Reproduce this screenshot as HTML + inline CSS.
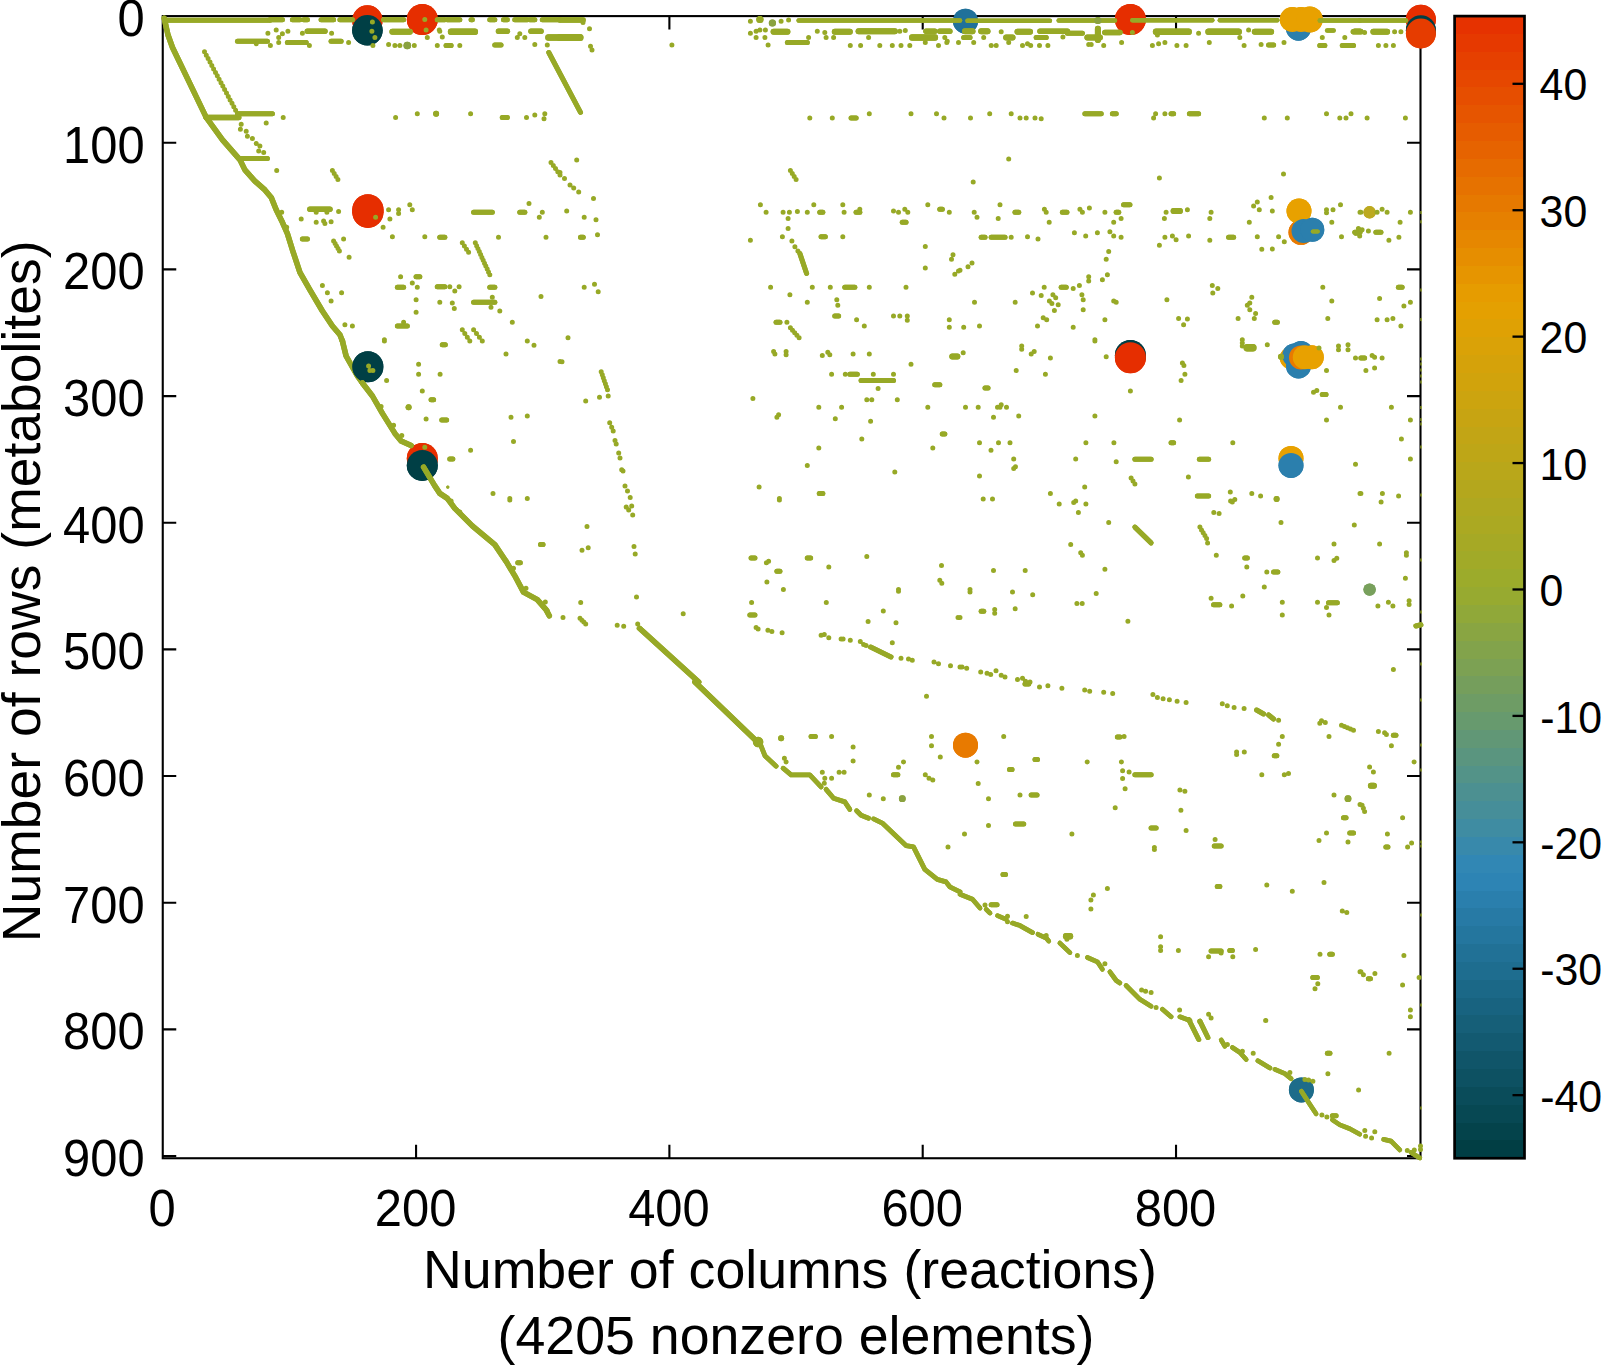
<!DOCTYPE html><html><head><meta charset="utf-8"><title>Sparsity pattern</title>
<style>html,body{margin:0;padding:0;background:#fff;overflow:hidden}svg{display:block}text{font-family:"Liberation Sans",sans-serif;fill:#000}</style></head><body>
<svg width="1601" height="1365" viewBox="0 0 1601 1365">
<rect width="1601" height="1365" fill="#fff"/>
<defs><linearGradient id="cb" x1="0" y1="0" x2="0" y2="1"><stop offset="0" stop-color="#e62e00"/><stop offset="0.25" stop-color="#e6a000"/><stop offset="0.5" stop-color="#9aab2c"/><stop offset="0.75" stop-color="#2e86b8"/><stop offset="1" stop-color="#003c40"/></linearGradient>
<clipPath id="clip"><rect x="158.75" y="0.00" width="1281.75" height="1164.15"/></clipPath></defs>
<g id="axes" stroke="#000" stroke-width="2.1" fill="none">
<rect x="162.75" y="16.10" width="1257.75" height="1142.15"/>
<path d="M162.75 142.76h13.5M1420.50 142.76h-13.5"/>
<path d="M162.75 269.42h13.5M1420.50 269.42h-13.5"/>
<path d="M162.75 396.08h13.5M1420.50 396.08h-13.5"/>
<path d="M162.75 522.74h13.5M1420.50 522.74h-13.5"/>
<path d="M162.75 649.40h13.5M1420.50 649.40h-13.5"/>
<path d="M162.75 776.06h13.5M1420.50 776.06h-13.5"/>
<path d="M162.75 902.72h13.5M1420.50 902.72h-13.5"/>
<path d="M162.75 1029.38h13.5M1420.50 1029.38h-13.5"/>
<path d="M162.75 1156.04h13.5M1420.50 1156.04h-13.5"/>
<path d="M416.07 1158.25v-13.5M416.07 16.10v13.5"/>
<path d="M669.39 1158.25v-13.5M669.39 16.10v13.5"/>
<path d="M922.71 1158.25v-13.5M922.71 16.10v13.5"/>
<path d="M1176.03 1158.25v-13.5M1176.03 16.10v13.5"/>
</g>
<g id="pts" clip-path="url(#clip)">
<g fill="none" stroke="#97a926" stroke-linecap="round" stroke-linejoin="round" stroke-width="5.0">
<path d="M342.4 341.0 346.1 356.0 357.4 376.0 362.4 383.0" stroke-width="5.5"/>
<path d="M342.4 341.0 346.1 356.0 357.4 376.0 362.4 383.0" stroke-width="5.5"/>
</g>
<circle cx="367.4" cy="20.5" r="15.2" fill="#e62e00"/>
<circle cx="367.4" cy="30.2" r="15.3" fill="#003f45"/>
<circle cx="422.3" cy="19.5" r="15.5" fill="#e62e00"/>
<circle cx="367.9" cy="209.8" r="15.6" fill="#e62e00"/>
<circle cx="367.9" cy="212.3" r="15.6" fill="#e62e00"/>
<circle cx="965.5" cy="21.2" r="12.5" fill="#20719a"/>
<circle cx="1130.4" cy="19.5" r="15.5" fill="#e62e00"/>
<circle cx="1298.5" cy="28.2" r="12.5" fill="#2b7fad"/>
<circle cx="1292.3" cy="19.5" r="12.5" fill="#e8a100"/>
<circle cx="1301.0" cy="19.5" r="12.5" fill="#e8a100"/>
<circle cx="1309.8" cy="19.5" r="13.0" fill="#e8a100"/>
<circle cx="1301.0" cy="232.3" r="12.5" fill="#e87a00"/>
<circle cx="1299.0" cy="211.1" r="12.5" fill="#e8a100"/>
<circle cx="1303.5" cy="231.1" r="12.0" fill="#2b7fad"/>
<circle cx="1312.3" cy="229.8" r="12.0" fill="#2b7fad"/>
<circle cx="1420.9" cy="19.7" r="15.0" fill="#e62e00"/>
<circle cx="1420.9" cy="30.2" r="15.0" fill="#003f45"/>
<circle cx="1420.9" cy="33.5" r="15.0" fill="#e63c00"/>
<circle cx="367.9" cy="366.7" r="15.5" fill="#003f45"/>
<circle cx="422.3" cy="458.4" r="15.5" fill="#e62e00"/>
<circle cx="422.3" cy="465.4" r="15.5" fill="#003f45"/>
<circle cx="1130.4" cy="355.5" r="15.5" fill="#003f45"/>
<circle cx="1130.4" cy="357.7" r="15.5" fill="#e62e00"/>
<circle cx="1290.8" cy="358.0" r="11.0" fill="#e8a100"/>
<circle cx="1294.3" cy="355.5" r="12.0" fill="#2b7fad"/>
<circle cx="1301.0" cy="353.0" r="12.0" fill="#2b7fad"/>
<circle cx="1298.5" cy="366.0" r="12.5" fill="#2b7fad"/>
<circle cx="1301.0" cy="357.5" r="12.0" fill="#e87a00"/>
<circle cx="1304.8" cy="357.2" r="12.0" fill="#e8a100"/>
<circle cx="1311.8" cy="357.2" r="12.0" fill="#e8a100"/>
<circle cx="1291.0" cy="458.4" r="12.5" fill="#e8a100"/>
<circle cx="1291.0" cy="465.4" r="12.5" fill="#2b7fad"/>
<circle cx="965.5" cy="745.2" r="12.5" fill="#e87a00"/>
<circle cx="1301.4" cy="1089.9" r="12.5" fill="#1d6c8a"/>
<circle cx="367.4" cy="20.5" r="15.2" fill="#e62e00"/>
<circle cx="367.4" cy="30.2" r="15.3" fill="#003f45"/>
<circle cx="422.3" cy="19.5" r="15.5" fill="#e62e00"/>
<circle cx="367.9" cy="209.8" r="15.6" fill="#e62e00"/>
<circle cx="367.9" cy="212.3" r="15.6" fill="#e62e00"/>
<circle cx="965.5" cy="21.2" r="12.5" fill="#20719a"/>
<circle cx="1130.4" cy="19.5" r="15.5" fill="#e62e00"/>
<circle cx="1298.5" cy="28.2" r="12.5" fill="#2b7fad"/>
<circle cx="1292.3" cy="19.5" r="12.5" fill="#e8a100"/>
<circle cx="1301.0" cy="19.5" r="12.5" fill="#e8a100"/>
<circle cx="1309.8" cy="19.5" r="13.0" fill="#e8a100"/>
<circle cx="1301.0" cy="232.3" r="12.5" fill="#e87a00"/>
<circle cx="1299.0" cy="211.1" r="12.5" fill="#e8a100"/>
<circle cx="1303.5" cy="231.1" r="12.0" fill="#2b7fad"/>
<circle cx="1312.3" cy="229.8" r="12.0" fill="#2b7fad"/>
<circle cx="1420.9" cy="19.7" r="15.0" fill="#e62e00"/>
<circle cx="1420.9" cy="30.2" r="15.0" fill="#003f45"/>
<circle cx="1420.9" cy="33.5" r="15.0" fill="#e63c00"/>
<circle cx="367.9" cy="366.7" r="15.5" fill="#003f45"/>
<circle cx="422.3" cy="458.4" r="15.5" fill="#e62e00"/>
<circle cx="422.3" cy="465.4" r="15.5" fill="#003f45"/>
<circle cx="1130.4" cy="355.5" r="15.5" fill="#003f45"/>
<circle cx="1130.4" cy="357.7" r="15.5" fill="#e62e00"/>
<circle cx="1290.8" cy="358.0" r="11.0" fill="#e8a100"/>
<circle cx="1294.3" cy="355.5" r="12.0" fill="#2b7fad"/>
<circle cx="1301.0" cy="353.0" r="12.0" fill="#2b7fad"/>
<circle cx="1298.5" cy="366.0" r="12.5" fill="#2b7fad"/>
<circle cx="1301.0" cy="357.5" r="12.0" fill="#e87a00"/>
<circle cx="1304.8" cy="357.2" r="12.0" fill="#e8a100"/>
<circle cx="1311.8" cy="357.2" r="12.0" fill="#e8a100"/>
<circle cx="1291.0" cy="458.4" r="12.5" fill="#e8a100"/>
<circle cx="1291.0" cy="465.4" r="12.5" fill="#2b7fad"/>
<circle cx="965.5" cy="745.2" r="12.5" fill="#e87a00"/>
<circle cx="1301.4" cy="1089.9" r="12.5" fill="#1d6c8a"/>
<g fill="none" stroke="#97a926" stroke-linecap="round" stroke-linejoin="round" stroke-width="5.0">
<path d="M164.2 18.2 168.0 35.0 172.5 47.5 206.2 117.4 222.5 139.9 240.0 159.9 244.9 169.9 254.9 181.1 264.9 189.9 271.2 197.4 276.2 209.8 282.4 222.3 287.4 233.6 292.4 249.8 299.9 272.3 309.9 289.8 322.4 311.0 332.4 326.0 339.9 334.8 342.4 341.0" stroke-width="5.5"/>
<path d="M165.0 20.2 269.9 20.2" stroke-width="5.0"/>
<path d="M269.9 19.7 282.4 19.7"/>
<path d="M292.4 19.7 299.9 19.7"/>
<path d="M303.7 19.7 307.4 19.7"/>
<path d="M321.1 19.7 333.6 19.7"/>
<path d="M339.9 19.7 352.4 19.7"/>
<path d="M383.6 19.7 403.6 19.7"/>
<path d="M437.3 19.7 444.8 19.7"/>
<path d="M447.3 19.7 459.8 19.7"/>
<path d="M471.1 19.7 472.3 19.7"/>
<path d="M489.8 19.7 494.8 19.7"/>
<path d="M503.5 19.7 507.3 19.7"/>
<path d="M514.8 19.7 527.3 19.7"/>
<path d="M529.8 19.7 534.8 19.7"/>
<path d="M542.3 19.7 560.0 19.7"/>
<path d="M307.4 31.2 324.9 31.2" stroke-width="5.5"/>
<path d="M392.4 31.7 409.8 31.7" stroke-width="6.0"/>
<path d="M451.1 31.7 474.8 31.7" stroke-width="6.5"/>
<path d="M498.5 31.2 507.3 31.2" stroke-width="5.5"/>
<path d="M531.0 31.2 541.0 31.2" stroke-width="5.5"/>
<path d="M548.5 37.5 560.0 37.5" stroke-width="6.5"/>
<path d="M237.5 41.2 267.4 41.2"/>
<path d="M287.4 42.5 306.2 42.5"/>
<path d="M331.1 41.2 341.1 41.2"/>
<path d="M446.1 45.5 451.1 45.5"/>
<path d="M494.8 45.0 501.0 45.0"/>
<path d="M237.5 113.7 272.4 113.7"/>
<path d="M206.2 117.4 238.7 117.4" stroke-width="5.5"/>
<path d="M240.0 158.6 267.4 158.6"/>
<path d="M502.3 117.4 507.3 117.4"/>
<path d="M309.9 209.3 329.9 209.3" stroke-width="5.5"/>
<path d="M473.6 212.3 492.3 212.3"/>
<path d="M519.8 212.3 524.8 212.3"/>
<path d="M302.4 239.1 307.4 239.1"/>
<path d="M439.8 237.3 444.8 237.3"/>
<path d="M416.1 276.8 419.8 276.8"/>
<path d="M397.4 287.3 403.6 287.3"/>
<path d="M437.3 286.8 444.8 286.8"/>
<path d="M489.8 287.3 494.8 287.3"/>
<path d="M473.6 302.3 494.8 302.3"/>
<path d="M397.4 326.0 407.3 326.0"/>
<path d="M560.0 20.0 583.0 20.0" stroke-width="5.5"/>
<path d="M560.0 37.5 580.0 37.5" stroke-width="7.0"/>
<path d="M548.8 52.5 580.5 112.4"/>
<path d="M580.5 237.3 583.2 237.3"/>
<path d="M798.6 20.5 960.0 20.5" stroke-width="4.4"/>
<path d="M773.6 31.7 787.4 31.7" stroke-width="6.0"/>
<path d="M787.4 42.5 807.3 42.5"/>
<path d="M834.8 31.7 849.8 31.7" stroke-width="6.0"/>
<path d="M858.6 31.2 894.8 31.2" stroke-width="6.0"/>
<path d="M912.3 37.5 934.8 37.5" stroke-width="6.5"/>
<path d="M926.0 31.2 934.8 31.2" stroke-width="5.5"/>
<path d="M939.8 31.2 949.8 31.2" stroke-width="5.5"/>
<path d="M851.1 117.9 856.1 117.9"/>
<path d="M819.8 212.3 822.8 212.3"/>
<path d="M856.1 212.3 859.8 212.3"/>
<path d="M939.8 209.3 942.3 209.3"/>
<path d="M902.3 222.3 906.0 222.3"/>
<path d="M821.1 236.8 825.3 236.8"/>
<path d="M799.9 253.6 806.6 273.5"/>
<path d="M844.8 287.3 854.8 287.3"/>
<path d="M834.8 316.0 838.6 316.0"/>
<path d="M776.1 322.3 779.9 322.3"/>
<path d="M1312.8 231.6 1317.8 231.6" stroke-width="4.0"/>
<path d="M967.5 20.7 1049.9 20.7" stroke-width="4.4"/>
<path d="M1058.7 20.5 1114.9 20.5" stroke-width="4.4"/>
<path d="M1132.4 20.2 1212.3 20.2" stroke-width="4.4"/>
<path d="M1219.8 20.2 1277.3 20.2" stroke-width="4.4"/>
<path d="M1319.8 20.5 1360.0 20.5" stroke-width="4.4"/>
<path d="M965.0 31.2 972.5 31.2" stroke-width="6.0"/>
<path d="M981.2 31.2 987.5 31.2" stroke-width="6.0"/>
<path d="M1017.5 31.7 1030.0 31.7" stroke-width="6.0"/>
<path d="M1040.0 31.2 1067.4 31.2" stroke-width="5.5"/>
<path d="M1067.4 33.2 1082.4 33.2" stroke-width="5.0"/>
<path d="M1104.9 32.5 1119.9 32.5" stroke-width="5.5"/>
<path d="M1156.1 31.7 1188.6 31.7" stroke-width="6.5"/>
<path d="M1208.6 31.7 1238.6 31.7" stroke-width="6.5"/>
<path d="M1254.8 31.7 1271.1 31.7" stroke-width="6.0"/>
<path d="M1327.3 30.5 1333.5 30.5" stroke-width="4.7"/>
<path d="M1354.8 31.2 1360.0 31.2" stroke-width="5.5"/>
<path d="M963.7 37.5 970.0 37.5" stroke-width="5.0"/>
<path d="M1006.2 37.5 1012.5 37.5" stroke-width="6.0"/>
<path d="M1036.2 37.5 1046.2 37.5" stroke-width="5.0"/>
<path d="M1087.4 37.5 1099.9 37.5" stroke-width="6.0"/>
<path d="M1097.9 28.7 1097.9 40.0" stroke-width="6.0"/>
<path d="M1268.6 45.0 1273.6 45.0"/>
<path d="M1319.8 45.5 1324.8 45.5"/>
<path d="M1342.3 45.5 1353.5 45.5"/>
<path d="M1084.9 113.7 1101.2 113.7"/>
<path d="M1112.4 113.7 1116.2 113.7"/>
<path d="M1171.1 113.7 1173.6 113.7"/>
<path d="M1189.4 113.7 1198.6 113.7"/>
<path d="M1015.0 212.3 1018.7 212.3"/>
<path d="M1062.4 212.3 1066.9 212.3"/>
<path d="M1116.2 212.3 1118.7 212.3"/>
<path d="M1123.6 204.8 1129.9 204.8"/>
<path d="M1173.6 211.1 1179.9 211.1" stroke-width="6.0"/>
<path d="M981.2 237.3 985.0 237.3"/>
<path d="M991.2 237.3 1005.0 237.3"/>
<path d="M1228.6 237.3 1233.6 237.3"/>
<path d="M1354.8 232.3 1360.0 232.3"/>
<path d="M1061.2 287.3 1066.2 287.3"/>
<path d="M1274.8 322.3 1277.3 322.3"/>
<path d="M1359.9 20.5 1405.9 20.5" stroke-width="4.4"/>
<path d="M1353.4 31.7 1360.9 31.7" stroke-width="5.5"/>
<path d="M1373.4 31.7 1387.1 31.7" stroke-width="6.0"/>
<path d="M1375.9 232.3 1380.9 232.3"/>
<path d="M1398.4 287.3 1402.1 287.3"/>
<path d="M362.4 383.0 372.4 396.0 382.4 413.4 394.9 433.4 401.1 440.9 411.1 445.4" stroke-width="5.5"/>
<path d="M423.6 467.2 434.8 485.9 439.8 493.4 447.3 498.4 454.8 508.4 472.3 525.9 494.8 544.6 507.3 563.3 514.8 575.8 523.5 592.1 537.3 599.6 546.0 609.6 549.3 615.8" stroke-width="5.5"/>
<path d="M442.3 344.7 445.3 344.7"/>
<path d="M431.1 399.7 433.6 399.7"/>
<path d="M441.8 419.9 446.6 419.9"/>
<path d="M449.8 458.9 452.8 458.9"/>
<path d="M540.5 544.6 543.0 544.6"/>
<path d="M517.8 562.8 520.3 562.8"/>
<path d="M639.5 628.3 698.7 682.0" stroke-width="5.5"/>
<path d="M952.3 356.5 957.3 356.5" stroke-width="6.0"/>
<path d="M849.8 374.2 857.3 374.2"/>
<path d="M861.1 380.5 893.5 380.5"/>
<path d="M934.8 384.7 939.8 384.7"/>
<path d="M942.3 433.9 944.8 433.9"/>
<path d="M819.3 493.4 822.8 493.4"/>
<path d="M751.1 558.1 754.9 558.1"/>
<path d="M776.9 571.3 779.9 571.3"/>
<path d="M807.3 558.1 810.6 558.1"/>
<path d="M749.9 615.0 754.9 615.0"/>
<path d="M870.6 647.0 891.0 657.0"/>
<path d="M985.0 388.0 988.0 388.0"/>
<path d="M1247.3 347.7 1252.8 347.7" stroke-width="7.5"/>
<path d="M1322.3 394.5 1326.0 394.5"/>
<path d="M1171.1 442.7 1173.6 442.7"/>
<path d="M1134.9 459.2 1151.1 459.2"/>
<path d="M1199.4 459.2 1208.6 459.2"/>
<path d="M1197.4 496.1 1208.6 496.1"/>
<path d="M1134.9 527.1 1151.1 542.9"/>
<path d="M1244.8 558.1 1247.3 558.1"/>
<path d="M1273.6 572.1 1277.8 572.1"/>
<path d="M1213.6 604.8 1219.8 604.8"/>
<path d="M1328.5 602.8 1337.3 602.8"/>
<path d="M981.2 611.3 983.7 611.3"/>
<path d="M1360.9 358.0 1364.6 358.0"/>
<path d="M1415.9 626.0 1420.9 624.8"/>
<path d="M694.9 682.0 757.4 742.0" stroke-width="5.5"/>
<path d="M759.9 743.2 764.9 755.7 776.1 766.2" stroke-width="4.8"/>
<path d="M783.1 768.2 791.1 774.9 809.8 774.9 821.1 786.9" stroke-width="4.8"/>
<path d="M826.1 789.4 833.6 798.2 844.8 801.9 849.8 809.4" stroke-width="4.8"/>
<path d="M856.6 810.7 861.1 815.2 868.6 818.2" stroke-width="4.8"/>
<path d="M873.6 818.9 882.3 823.1 906.0 845.6 913.5 846.9 924.8 869.4 937.3 879.4 946.0 881.9 949.8 886.8 960.0 891.8" stroke-width="4.8"/>
<path d="M811.1 736.5 815.3 736.5"/>
<path d="M893.5 774.7 897.8 774.7"/>
<path d="M1025.0 684.0 1028.7 684.0"/>
<path d="M1256.6 710.0 1263.6 714.0"/>
<path d="M1268.6 715.0 1273.6 719.0"/>
<path d="M1117.4 737.0 1119.9 737.0"/>
<path d="M1274.3 755.7 1276.8 755.7"/>
<path d="M1035.0 759.4 1037.5 759.4"/>
<path d="M1009.5 769.4 1012.0 769.4"/>
<path d="M1134.9 774.7 1151.1 774.7"/>
<path d="M1031.2 794.9 1037.0 794.9"/>
<path d="M1343.5 817.7 1346.0 817.7"/>
<path d="M1015.5 824.1 1023.7 824.1"/>
<path d="M1151.1 827.9 1156.1 827.9"/>
<path d="M1349.8 832.9 1353.5 832.9"/>
<path d="M1214.3 846.1 1221.1 846.1"/>
<path d="M1003.0 874.4 1005.5 874.4"/>
<path d="M1217.3 886.4 1219.8 886.4"/>
<path d="M1211.1 951.1 1221.1 951.1"/>
<path d="M1229.8 950.6 1232.3 950.6"/>
<path d="M1329.8 954.3 1332.3 954.3"/>
<path d="M1312.8 977.5 1317.3 977.5"/>
<path d="M960.0 894.3 972.5 899.3 980.0 908.1" stroke-width="4.7"/>
<path d="M986.2 909.3 990.0 913.1" stroke-width="4.7"/>
<path d="M991.2 904.8 997.0 904.8"/>
<path d="M997.5 915.6 1006.2 919.3" stroke-width="4.7"/>
<path d="M1012.5 923.1 1020.0 925.6 1032.5 932.6" stroke-width="4.7"/>
<path d="M1038.0 934.3 1046.2 938.1 1048.7 941.1" stroke-width="4.7"/>
<path d="M1059.9 943.1 1069.9 952.6" stroke-width="4.7"/>
<path d="M1066.2 936.3 1069.9 936.3" stroke-width="6.5"/>
<path d="M1087.4 957.5 1097.4 961.8 1102.4 969.3" stroke-width="4.7"/>
<path d="M1109.9 971.8 1116.2 980.5 1119.9 983.0" stroke-width="4.7"/>
<path d="M1126.1 985.5 1139.9 999.3 1151.1 1006.3" stroke-width="4.7"/>
<path d="M1162.4 1009.3 1171.1 1016.8" stroke-width="4.7"/>
<path d="M1179.9 1016.8 1189.9 1020.5" stroke-width="4.7"/>
<path d="M1393.4 735.2 1395.9 735.2"/>
<path d="M1370.9 785.7 1373.9 785.7" stroke-width="6.0"/>
<path d="M1385.9 846.9 1387.9 846.9"/>
<path d="M1368.4 978.8 1370.4 978.8"/>
<path d="M1188.7 1019.5 1198.7 1039.5"/>
<path d="M1199.9 1021.2 1207.9 1037.5"/>
<path d="M1221.2 1040.0 1224.9 1046.2" stroke-width="4.7"/>
<path d="M1232.4 1047.5 1239.9 1052.5 1246.2 1059.5" stroke-width="4.7"/>
<path d="M1257.9 1060.7 1269.9 1068.0" stroke-width="4.7"/>
<path d="M1274.9 1069.4 1284.9 1073.7 1291.1 1078.7" stroke-width="4.7"/>
<path d="M1301.4 1091.2 1311.1 1106.2 1316.1 1113.7" stroke-width="4.7"/>
<path d="M1332.4 1115.7 1336.1 1115.7"/>
<path d="M1332.4 1119.9 1339.9 1124.9 1349.8 1128.7 1359.8 1134.2" stroke-width="4.7"/>
<path d="M1383.6 1139.4 1391.1 1141.1 1399.8 1149.9" stroke-width="4.7"/>
<path d="M1411.1 1152.4 1419.8 1157.9" stroke-width="4.7"/>
<path d="M1327.4 1053.2 1329.9 1053.2"/>
<path d="M164.2 18.2 168.0 35.0 172.5 47.5 206.2 117.4 222.5 139.9 240.0 159.9 244.9 169.9 254.9 181.1 264.9 189.9 271.2 197.4 276.2 209.8 282.4 222.3 287.4 233.6 292.4 249.8 299.9 272.3 309.9 289.8 322.4 311.0 332.4 326.0 339.9 334.8 342.4 341.0" stroke-width="5.5"/>
<path d="M165.0 20.2 269.9 20.2" stroke-width="5.0"/>
<path d="M269.9 19.7 282.4 19.7"/>
<path d="M292.4 19.7 299.9 19.7"/>
<path d="M303.7 19.7 307.4 19.7"/>
<path d="M321.1 19.7 333.6 19.7"/>
<path d="M339.9 19.7 352.4 19.7"/>
<path d="M383.6 19.7 403.6 19.7"/>
<path d="M437.3 19.7 444.8 19.7"/>
<path d="M447.3 19.7 459.8 19.7"/>
<path d="M471.1 19.7 472.3 19.7"/>
<path d="M489.8 19.7 494.8 19.7"/>
<path d="M503.5 19.7 507.3 19.7"/>
<path d="M514.8 19.7 527.3 19.7"/>
<path d="M529.8 19.7 534.8 19.7"/>
<path d="M542.3 19.7 560.0 19.7"/>
<path d="M307.4 31.2 324.9 31.2" stroke-width="5.5"/>
<path d="M392.4 31.7 409.8 31.7" stroke-width="6.0"/>
<path d="M451.1 31.7 474.8 31.7" stroke-width="6.5"/>
<path d="M498.5 31.2 507.3 31.2" stroke-width="5.5"/>
<path d="M531.0 31.2 541.0 31.2" stroke-width="5.5"/>
<path d="M548.5 37.5 560.0 37.5" stroke-width="6.5"/>
<path d="M237.5 41.2 267.4 41.2"/>
<path d="M287.4 42.5 306.2 42.5"/>
<path d="M331.1 41.2 341.1 41.2"/>
<path d="M446.1 45.5 451.1 45.5"/>
<path d="M494.8 45.0 501.0 45.0"/>
<path d="M237.5 113.7 272.4 113.7"/>
<path d="M206.2 117.4 238.7 117.4" stroke-width="5.5"/>
<path d="M240.0 158.6 267.4 158.6"/>
<path d="M502.3 117.4 507.3 117.4"/>
<path d="M309.9 209.3 329.9 209.3" stroke-width="5.5"/>
<path d="M473.6 212.3 492.3 212.3"/>
<path d="M519.8 212.3 524.8 212.3"/>
<path d="M302.4 239.1 307.4 239.1"/>
<path d="M439.8 237.3 444.8 237.3"/>
<path d="M416.1 276.8 419.8 276.8"/>
<path d="M397.4 287.3 403.6 287.3"/>
<path d="M437.3 286.8 444.8 286.8"/>
<path d="M489.8 287.3 494.8 287.3"/>
<path d="M473.6 302.3 494.8 302.3"/>
<path d="M397.4 326.0 407.3 326.0"/>
<path d="M560.0 20.0 583.0 20.0" stroke-width="5.5"/>
<path d="M560.0 37.5 580.0 37.5" stroke-width="7.0"/>
<path d="M548.8 52.5 580.5 112.4"/>
<path d="M580.5 237.3 583.2 237.3"/>
<path d="M798.6 20.5 960.0 20.5" stroke-width="4.4"/>
<path d="M773.6 31.7 787.4 31.7" stroke-width="6.0"/>
<path d="M787.4 42.5 807.3 42.5"/>
<path d="M834.8 31.7 849.8 31.7" stroke-width="6.0"/>
<path d="M858.6 31.2 894.8 31.2" stroke-width="6.0"/>
<path d="M912.3 37.5 934.8 37.5" stroke-width="6.5"/>
<path d="M926.0 31.2 934.8 31.2" stroke-width="5.5"/>
<path d="M939.8 31.2 949.8 31.2" stroke-width="5.5"/>
<path d="M851.1 117.9 856.1 117.9"/>
<path d="M819.8 212.3 822.8 212.3"/>
<path d="M856.1 212.3 859.8 212.3"/>
<path d="M939.8 209.3 942.3 209.3"/>
<path d="M902.3 222.3 906.0 222.3"/>
<path d="M821.1 236.8 825.3 236.8"/>
<path d="M799.9 253.6 806.6 273.5"/>
<path d="M844.8 287.3 854.8 287.3"/>
<path d="M834.8 316.0 838.6 316.0"/>
<path d="M776.1 322.3 779.9 322.3"/>
<path d="M1312.8 231.6 1317.8 231.6" stroke-width="4.0"/>
<path d="M967.5 20.7 1049.9 20.7" stroke-width="4.4"/>
<path d="M1058.7 20.5 1114.9 20.5" stroke-width="4.4"/>
<path d="M1132.4 20.2 1212.3 20.2" stroke-width="4.4"/>
<path d="M1219.8 20.2 1277.3 20.2" stroke-width="4.4"/>
<path d="M1319.8 20.5 1360.0 20.5" stroke-width="4.4"/>
<path d="M965.0 31.2 972.5 31.2" stroke-width="6.0"/>
<path d="M981.2 31.2 987.5 31.2" stroke-width="6.0"/>
<path d="M1017.5 31.7 1030.0 31.7" stroke-width="6.0"/>
<path d="M1040.0 31.2 1067.4 31.2" stroke-width="5.5"/>
<path d="M1067.4 33.2 1082.4 33.2" stroke-width="5.0"/>
<path d="M1104.9 32.5 1119.9 32.5" stroke-width="5.5"/>
<path d="M1156.1 31.7 1188.6 31.7" stroke-width="6.5"/>
<path d="M1208.6 31.7 1238.6 31.7" stroke-width="6.5"/>
<path d="M1254.8 31.7 1271.1 31.7" stroke-width="6.0"/>
<path d="M1327.3 30.5 1333.5 30.5" stroke-width="4.7"/>
<path d="M1354.8 31.2 1360.0 31.2" stroke-width="5.5"/>
<path d="M963.7 37.5 970.0 37.5" stroke-width="5.0"/>
<path d="M1006.2 37.5 1012.5 37.5" stroke-width="6.0"/>
<path d="M1036.2 37.5 1046.2 37.5" stroke-width="5.0"/>
<path d="M1087.4 37.5 1099.9 37.5" stroke-width="6.0"/>
<path d="M1097.9 28.7 1097.9 40.0" stroke-width="6.0"/>
<path d="M1268.6 45.0 1273.6 45.0"/>
<path d="M1319.8 45.5 1324.8 45.5"/>
<path d="M1342.3 45.5 1353.5 45.5"/>
<path d="M1084.9 113.7 1101.2 113.7"/>
<path d="M1112.4 113.7 1116.2 113.7"/>
<path d="M1171.1 113.7 1173.6 113.7"/>
<path d="M1189.4 113.7 1198.6 113.7"/>
<path d="M1015.0 212.3 1018.7 212.3"/>
<path d="M1062.4 212.3 1066.9 212.3"/>
<path d="M1116.2 212.3 1118.7 212.3"/>
<path d="M1123.6 204.8 1129.9 204.8"/>
<path d="M1173.6 211.1 1179.9 211.1" stroke-width="6.0"/>
<path d="M981.2 237.3 985.0 237.3"/>
<path d="M991.2 237.3 1005.0 237.3"/>
<path d="M1228.6 237.3 1233.6 237.3"/>
<path d="M1354.8 232.3 1360.0 232.3"/>
<path d="M1061.2 287.3 1066.2 287.3"/>
<path d="M1274.8 322.3 1277.3 322.3"/>
<path d="M1359.9 20.5 1405.9 20.5" stroke-width="4.4"/>
<path d="M1353.4 31.7 1360.9 31.7" stroke-width="5.5"/>
<path d="M1373.4 31.7 1387.1 31.7" stroke-width="6.0"/>
<path d="M1375.9 232.3 1380.9 232.3"/>
<path d="M1398.4 287.3 1402.1 287.3"/>
<path d="M362.4 383.0 372.4 396.0 382.4 413.4 394.9 433.4 401.1 440.9 411.1 445.4" stroke-width="5.5"/>
<path d="M423.6 467.2 434.8 485.9 439.8 493.4 447.3 498.4 454.8 508.4 472.3 525.9 494.8 544.6 507.3 563.3 514.8 575.8 523.5 592.1 537.3 599.6 546.0 609.6 549.3 615.8" stroke-width="5.5"/>
<path d="M442.3 344.7 445.3 344.7"/>
<path d="M431.1 399.7 433.6 399.7"/>
<path d="M441.8 419.9 446.6 419.9"/>
<path d="M449.8 458.9 452.8 458.9"/>
<path d="M540.5 544.6 543.0 544.6"/>
<path d="M517.8 562.8 520.3 562.8"/>
<path d="M639.5 628.3 698.7 682.0" stroke-width="5.5"/>
<path d="M952.3 356.5 957.3 356.5" stroke-width="6.0"/>
<path d="M849.8 374.2 857.3 374.2"/>
<path d="M861.1 380.5 893.5 380.5"/>
<path d="M934.8 384.7 939.8 384.7"/>
<path d="M942.3 433.9 944.8 433.9"/>
<path d="M819.3 493.4 822.8 493.4"/>
<path d="M751.1 558.1 754.9 558.1"/>
<path d="M776.9 571.3 779.9 571.3"/>
<path d="M807.3 558.1 810.6 558.1"/>
<path d="M749.9 615.0 754.9 615.0"/>
<path d="M870.6 647.0 891.0 657.0"/>
<path d="M985.0 388.0 988.0 388.0"/>
<path d="M1247.3 347.7 1252.8 347.7" stroke-width="7.5"/>
<path d="M1322.3 394.5 1326.0 394.5"/>
<path d="M1171.1 442.7 1173.6 442.7"/>
<path d="M1134.9 459.2 1151.1 459.2"/>
<path d="M1199.4 459.2 1208.6 459.2"/>
<path d="M1197.4 496.1 1208.6 496.1"/>
<path d="M1134.9 527.1 1151.1 542.9"/>
<path d="M1244.8 558.1 1247.3 558.1"/>
<path d="M1273.6 572.1 1277.8 572.1"/>
<path d="M1213.6 604.8 1219.8 604.8"/>
<path d="M1328.5 602.8 1337.3 602.8"/>
<path d="M981.2 611.3 983.7 611.3"/>
<path d="M1360.9 358.0 1364.6 358.0"/>
<path d="M1415.9 626.0 1420.9 624.8"/>
<path d="M694.9 682.0 757.4 742.0" stroke-width="5.5"/>
<path d="M759.9 743.2 764.9 755.7 776.1 766.2" stroke-width="4.8"/>
<path d="M783.1 768.2 791.1 774.9 809.8 774.9 821.1 786.9" stroke-width="4.8"/>
<path d="M826.1 789.4 833.6 798.2 844.8 801.9 849.8 809.4" stroke-width="4.8"/>
<path d="M856.6 810.7 861.1 815.2 868.6 818.2" stroke-width="4.8"/>
<path d="M873.6 818.9 882.3 823.1 906.0 845.6 913.5 846.9 924.8 869.4 937.3 879.4 946.0 881.9 949.8 886.8 960.0 891.8" stroke-width="4.8"/>
<path d="M811.1 736.5 815.3 736.5"/>
<path d="M893.5 774.7 897.8 774.7"/>
<path d="M1025.0 684.0 1028.7 684.0"/>
<path d="M1256.6 710.0 1263.6 714.0"/>
<path d="M1268.6 715.0 1273.6 719.0"/>
<path d="M1117.4 737.0 1119.9 737.0"/>
<path d="M1274.3 755.7 1276.8 755.7"/>
<path d="M1035.0 759.4 1037.5 759.4"/>
<path d="M1009.5 769.4 1012.0 769.4"/>
<path d="M1134.9 774.7 1151.1 774.7"/>
<path d="M1031.2 794.9 1037.0 794.9"/>
<path d="M1343.5 817.7 1346.0 817.7"/>
<path d="M1015.5 824.1 1023.7 824.1"/>
<path d="M1151.1 827.9 1156.1 827.9"/>
<path d="M1349.8 832.9 1353.5 832.9"/>
<path d="M1214.3 846.1 1221.1 846.1"/>
<path d="M1003.0 874.4 1005.5 874.4"/>
<path d="M1217.3 886.4 1219.8 886.4"/>
<path d="M1211.1 951.1 1221.1 951.1"/>
<path d="M1229.8 950.6 1232.3 950.6"/>
<path d="M1329.8 954.3 1332.3 954.3"/>
<path d="M1312.8 977.5 1317.3 977.5"/>
<path d="M960.0 894.3 972.5 899.3 980.0 908.1" stroke-width="4.7"/>
<path d="M986.2 909.3 990.0 913.1" stroke-width="4.7"/>
<path d="M991.2 904.8 997.0 904.8"/>
<path d="M997.5 915.6 1006.2 919.3" stroke-width="4.7"/>
<path d="M1012.5 923.1 1020.0 925.6 1032.5 932.6" stroke-width="4.7"/>
<path d="M1038.0 934.3 1046.2 938.1 1048.7 941.1" stroke-width="4.7"/>
<path d="M1059.9 943.1 1069.9 952.6" stroke-width="4.7"/>
<path d="M1066.2 936.3 1069.9 936.3" stroke-width="6.5"/>
<path d="M1087.4 957.5 1097.4 961.8 1102.4 969.3" stroke-width="4.7"/>
<path d="M1109.9 971.8 1116.2 980.5 1119.9 983.0" stroke-width="4.7"/>
<path d="M1126.1 985.5 1139.9 999.3 1151.1 1006.3" stroke-width="4.7"/>
<path d="M1162.4 1009.3 1171.1 1016.8" stroke-width="4.7"/>
<path d="M1179.9 1016.8 1189.9 1020.5" stroke-width="4.7"/>
<path d="M1393.4 735.2 1395.9 735.2"/>
<path d="M1370.9 785.7 1373.9 785.7" stroke-width="6.0"/>
<path d="M1385.9 846.9 1387.9 846.9"/>
<path d="M1368.4 978.8 1370.4 978.8"/>
<path d="M1188.7 1019.5 1198.7 1039.5"/>
<path d="M1199.9 1021.2 1207.9 1037.5"/>
<path d="M1221.2 1040.0 1224.9 1046.2" stroke-width="4.7"/>
<path d="M1232.4 1047.5 1239.9 1052.5 1246.2 1059.5" stroke-width="4.7"/>
<path d="M1257.9 1060.7 1269.9 1068.0" stroke-width="4.7"/>
<path d="M1274.9 1069.4 1284.9 1073.7 1291.1 1078.7" stroke-width="4.7"/>
<path d="M1301.4 1091.2 1311.1 1106.2 1316.1 1113.7" stroke-width="4.7"/>
<path d="M1332.4 1115.7 1336.1 1115.7"/>
<path d="M1332.4 1119.9 1339.9 1124.9 1349.8 1128.7 1359.8 1134.2" stroke-width="4.7"/>
<path d="M1383.6 1139.4 1391.1 1141.1 1399.8 1149.9" stroke-width="4.7"/>
<path d="M1411.1 1152.4 1419.8 1157.9" stroke-width="4.7"/>
<path d="M1327.4 1053.2 1329.9 1053.2"/>
</g>
<g fill="#97a926">
<circle cx="407.3" cy="45.5" r="3.8" fill="#8aa23f"/>
<circle cx="436.1" cy="113.7" r="3.0"/>
<circle cx="759.9" cy="19.5" r="3.6"/>
<circle cx="772.4" cy="23.0" r="3.6" fill="#8aa23f"/>
<circle cx="1097.9" cy="20.5" r="3.5" fill="#8aa23f"/>
<circle cx="1369.6" cy="212.3" r="6.2" fill="#bca91f"/>
<circle cx="408.6" cy="407.2" r="3.0"/>
<circle cx="447.8" cy="487.1" r="1.6"/>
<circle cx="1281.0" cy="356.7" r="3.0"/>
<circle cx="1276.6" cy="498.9" r="3.0"/>
<circle cx="1369.6" cy="589.6" r="6.2" fill="#78a05c"/>
<circle cx="758.1" cy="742.0" r="5.2"/>
<circle cx="781.1" cy="738.2" r="3.0"/>
<circle cx="902.3" cy="798.7" r="3.4" fill="#8aa23f"/>
<circle cx="1348.0" cy="798.7" r="3.4" fill="#90a632"/>
<circle cx="407.3" cy="45.5" r="3.8" fill="#8aa23f"/>
<circle cx="436.1" cy="113.7" r="3.0"/>
<circle cx="759.9" cy="19.5" r="3.6"/>
<circle cx="772.4" cy="23.0" r="3.6" fill="#8aa23f"/>
<circle cx="1097.9" cy="20.5" r="3.5" fill="#8aa23f"/>
<circle cx="1369.6" cy="212.3" r="6.2" fill="#bca91f"/>
<circle cx="408.6" cy="407.2" r="3.0"/>
<circle cx="447.8" cy="487.1" r="1.6"/>
<circle cx="1281.0" cy="356.7" r="3.0"/>
<circle cx="1276.6" cy="498.9" r="3.0"/>
<circle cx="1369.6" cy="589.6" r="6.2" fill="#78a05c"/>
<circle cx="758.1" cy="742.0" r="5.2"/>
<circle cx="781.1" cy="738.2" r="3.0"/>
<circle cx="902.3" cy="798.7" r="3.4" fill="#8aa23f"/>
<circle cx="1348.0" cy="798.7" r="3.4" fill="#90a632"/>
</g>
<path d="M267.9 33.2h0M276.2 30.0h0M282.4 33.7h0M287.9 31.2h0M302.4 33.2h0M331.6 33.2h0M439.8 31.2h0M519.8 33.7h0M278.7 37.5h0M442.3 37.0h0M517.3 37.5h0M524.8 37.5h0M256.2 43.7h0M270.4 45.5h0M278.7 42.5h0M309.4 45.5h0M348.6 42.5h0M372.9 45.5h0M388.6 44.5h0M394.9 45.5h0M399.9 45.5h0M414.3 45.5h0M437.3 45.5h0M459.8 45.5h0M534.8 44.5h0M547.3 45.0h0M372.4 22.0h0M371.9 31.2h0M374.9 37.5h0M424.8 19.5h0M426.1 30.0h0M427.3 37.5h0M439.3 30.0h0M204.5 51.7h0M206.3 55.2h0M208.1 58.6h0M210.0 62.0h0M211.8 65.5h0M213.6 68.9h0M215.5 72.4h0M217.3 75.8h0M219.1 79.2h0M221.0 82.7h0M222.8 86.1h0M224.6 89.6h0M226.5 93.0h0M228.3 96.5h0M230.1 99.9h0M232.0 103.3h0M233.8 106.8h0M235.6 110.2h0M237.5 113.7h0M283.2 117.4h0M266.2 122.9h0M241.2 124.2h0M240.4 129.2h0M246.2 131.2h0M247.4 136.2h0M252.4 138.6h0M256.2 143.6h0M259.9 146.1h0M258.7 151.1h0M263.7 152.4h0M276.7 170.6h0M332.4 170.4h0M334.2 173.4h0M336.1 176.4h0M337.9 179.4h0M395.6 117.4h0M417.3 113.7h0M470.6 113.7h0M526.5 117.4h0M534.8 114.9h0M544.8 113.7h0M544.0 118.7h0M551.0 162.4h0M553.3 165.5h0M555.5 168.6h0M557.8 171.7h0M560.0 174.9h0M281.7 212.3h0M316.2 212.3h0M326.9 212.3h0M338.6 211.6h0M301.2 219.1h0M316.2 222.3h0M323.6 221.1h0M324.9 223.6h0M331.1 221.8h0M286.7 227.3h0M375.6 217.3h0M388.6 209.8h0M398.6 209.8h0M398.6 213.6h0M389.9 219.1h0M383.1 227.3h0M409.8 204.8h0M412.3 209.8h0M529.0 203.6h0M542.3 212.3h0M539.3 217.3h0M343.6 239.1h0M392.4 236.8h0M424.8 236.8h0M498.5 237.3h0M546.0 237.3h0M349.1 257.3h0M333.6 241.1h0M335.1 243.6h0M336.5 246.1h0M338.0 248.6h0M339.4 251.1h0M462.3 242.8h0M464.4 246.0h0M466.5 249.2h0M468.6 252.3h0M475.3 242.8h0M476.6 245.7h0M477.9 248.6h0M479.3 251.5h0M480.6 254.4h0M481.9 257.4h0M483.2 260.3h0M484.5 263.2h0M485.8 266.1h0M487.2 269.0h0M488.5 271.9h0M489.8 274.8h0M400.6 276.8h0M412.3 283.0h0M417.3 287.3h0M449.8 286.8h0M459.1 286.8h0M454.8 291.0h0M322.4 285.5h0M327.4 292.8h0M341.6 292.8h0M331.1 301.0h0M416.1 299.8h0M439.8 302.3h0M452.3 303.0h0M454.3 308.5h0M492.3 297.3h0M491.0 307.3h0M499.8 311.0h0M541.0 296.5h0M416.1 312.3h0M512.3 322.3h0M344.9 324.8h0M352.4 326.0h0M403.6 322.3h0M384.4 339.8h0M462.3 329.8h0M464.8 333.5h0M467.3 337.3h0M469.8 341.0h0M473.6 329.8h0M476.5 333.5h0M479.4 337.3h0M482.3 341.0h0M583.0 22.5h0M589.5 28.7h0M590.5 46.2h0M592.0 50.0h0M671.9 45.0h0M576.7 160.1h0M560.0 172.4h0M564.5 178.6h0M570.0 184.9h0M573.7 187.9h0M578.7 191.9h0M593.5 198.6h0M566.7 211.1h0M584.2 217.3h0M596.0 219.8h0M597.5 234.8h0M584.2 287.3h0M594.5 284.3h0M598.2 291.8h0M568.0 337.8h0M750.4 21.2h0M781.1 21.2h0M788.6 20.0h0M750.4 33.2h0M756.1 31.2h0M756.1 37.5h0M759.9 30.0h0M765.4 30.0h0M764.9 37.5h0M808.6 37.5h0M817.3 31.2h0M824.8 32.5h0M826.1 37.5h0M833.6 37.5h0M899.8 31.2h0M905.3 30.5h0M868.6 37.5h0M944.8 37.5h0M947.3 41.2h0M768.1 45.0h0M850.3 45.5h0M860.6 45.5h0M879.8 45.5h0M892.3 45.5h0M901.0 45.5h0M909.8 45.5h0M925.3 42.5h0M938.5 45.5h0M946.8 42.5h0M958.5 42.5h0M809.8 117.9h0M832.3 117.9h0M869.3 113.7h0M911.0 113.7h0M936.5 113.7h0M944.0 117.9h0M790.4 170.4h0M792.3 173.4h0M794.2 176.4h0M796.1 179.4h0M760.4 204.8h0M766.1 212.3h0M783.1 212.3h0M789.4 212.3h0M797.4 211.6h0M807.3 212.3h0M813.8 204.8h0M842.8 204.8h0M844.1 212.3h0M859.8 209.3h0M893.5 211.1h0M898.5 212.3h0M904.8 209.3h0M907.8 212.3h0M927.8 204.8h0M949.3 212.3h0M788.1 218.6h0M788.1 228.6h0M782.4 236.8h0M750.4 240.3h0M842.8 236.8h0M925.3 246.6h0M953.0 254.8h0M951.5 259.3h0M925.3 268.1h0M954.8 274.3h0M958.5 271.1h0M791.9 241.1h0M794.9 246.8h0M797.9 251.1h0M770.6 287.3h0M812.3 287.3h0M830.3 287.3h0M869.3 287.3h0M906.0 287.3h0M789.9 294.8h0M807.3 302.3h0M836.8 299.8h0M837.8 305.3h0M856.6 319.8h0M864.3 326.0h0M893.5 316.0h0M899.8 316.0h0M907.3 316.0h0M907.3 320.3h0M949.3 319.8h0M949.3 327.3h0M786.9 322.3h0M790.4 327.8h0M792.5 330.3h0M794.7 332.8h0M796.9 335.3h0M799.1 337.8h0M1001.2 31.7h0M1132.4 32.5h0M1198.6 33.2h0M1248.6 30.0h0M983.7 37.5h0M1062.9 37.0h0M1157.4 35.0h0M1239.8 37.5h0M1322.3 37.5h0M1344.8 37.5h0M973.7 42.5h0M991.2 45.5h0M996.2 45.5h0M1008.7 42.5h0M1022.5 45.5h0M1027.5 43.7h0M1030.7 45.5h0M1039.5 45.5h0M1047.9 45.5h0M1088.7 44.5h0M1091.2 44.5h0M1103.7 45.5h0M1121.6 42.5h0M1152.4 45.5h0M1158.6 43.7h0M1164.9 42.5h0M1176.9 45.5h0M1186.1 45.5h0M1209.3 42.5h0M1244.1 45.5h0M1261.1 44.5h0M1284.0 42.5h0M970.5 117.9h0M989.7 113.7h0M1011.2 113.7h0M1020.0 117.9h0M1026.2 117.9h0M1035.0 117.9h0M1041.2 118.7h0M1155.6 113.7h0M1153.6 117.9h0M1164.9 113.7h0M1264.3 117.9h0M1287.3 117.9h0M1326.5 113.7h0M1339.8 117.9h0M1346.0 117.9h0M1351.0 113.7h0M1008.7 159.1h0M973.2 181.9h0M1159.4 178.1h0M1283.5 174.1h0M1000.0 204.8h0M974.2 212.3h0M977.0 217.3h0M998.2 218.6h0M1044.4 209.3h0M1046.2 212.3h0M1079.9 209.3h0M1082.4 212.3h0M1089.4 208.1h0M1104.9 212.3h0M1121.1 218.6h0M1113.7 222.3h0M1049.2 222.3h0M1166.1 212.3h0M1187.4 209.8h0M1164.4 218.6h0M1211.1 212.3h0M1209.8 218.6h0M1257.3 201.9h0M1253.6 206.1h0M1259.3 209.8h0M1271.1 197.4h0M1272.3 211.1h0M1249.3 222.3h0M1326.5 209.8h0M1326.5 212.8h0M1333.0 209.8h0M1340.5 204.8h0M1331.8 222.3h0M1360.0 212.3h0M1011.2 237.3h0M1027.5 236.8h0M1038.0 239.1h0M1074.4 232.8h0M1085.7 236.1h0M1097.4 232.8h0M1109.9 231.8h0M1113.7 236.1h0M1121.1 237.3h0M1164.9 237.3h0M1172.4 236.1h0M1176.1 239.8h0M1188.6 236.1h0M1209.8 240.3h0M1257.3 236.8h0M1278.6 236.8h0M1284.3 241.8h0M1341.5 236.8h0M1159.4 245.3h0M1261.8 249.3h0M1272.3 249.1h0M1108.7 251.6h0M1106.2 259.3h0M1107.4 274.8h0M1102.4 279.8h0M1088.7 276.8h0M1088.7 281.0h0M972.0 263.1h0M968.0 266.8h0M960.0 270.3h0M1044.2 287.3h0M1073.2 288.5h0M1079.4 285.5h0M1032.5 293.0h0M1041.2 295.5h0M1052.9 294.8h0M1055.7 297.8h0M1049.4 301.0h0M1051.9 303.5h0M1058.2 304.8h0M1054.4 310.5h0M1081.9 294.8h0M1083.2 299.8h0M1083.2 309.8h0M1113.7 301.0h0M1116.2 302.3h0M974.5 302.3h0M1015.2 302.3h0M1043.2 317.8h0M1046.7 319.8h0M1037.5 326.0h0M1073.2 327.3h0M1104.9 319.8h0M963.7 327.3h0M979.5 326.0h0M1212.3 285.5h0M1217.8 288.5h0M1212.8 293.0h0M1166.9 299.8h0M1251.8 297.3h0M1249.8 303.0h0M1247.3 305.3h0M1249.8 309.8h0M1255.6 313.5h0M1254.3 318.5h0M1238.1 318.5h0M1322.8 287.3h0M1331.8 301.0h0M1327.8 318.5h0M1178.6 318.5h0M1187.4 319.0h0M1183.6 324.8h0M1094.9 339.8h0M1242.3 339.8h0M1364.6 32.5h0M1394.6 31.7h0M1400.9 31.7h0M1378.4 45.5h0M1385.9 45.5h0M1393.4 45.5h0M1367.1 117.9h0M1405.4 117.9h0M1360.9 212.3h0M1377.1 212.3h0M1382.1 209.3h0M1387.1 212.3h0M1410.4 212.3h0M1400.1 222.3h0M1358.4 228.6h0M1362.1 229.8h0M1355.9 233.6h0M1359.7 236.1h0M1368.4 231.1h0M1388.9 240.3h0M1398.9 237.3h0M1379.6 298.5h0M1410.4 302.3h0M1403.9 306.0h0M1377.1 319.8h0M1387.1 319.8h0M1392.9 318.5h0M1400.9 326.0h0M368.6 366.0h0M369.9 370.5h0M372.9 370.5h0M384.4 341.0h0M506.0 354.0h0M534.0 345.2h0M527.3 341.0h0M560.0 361.5h0M418.6 364.2h0M418.6 374.2h0M440.1 374.2h0M386.6 380.5h0M422.3 391.0h0M426.1 418.9h0M511.0 417.2h0M527.3 415.9h0M401.8 435.4h0M513.5 441.4h0M470.6 450.2h0M424.8 447.2h0M493.0 493.4h0M509.8 498.4h0M509.8 500.1h0M527.3 498.4h0M545.3 602.1h0M381.1 406.5h0M393.6 425.2h0M451.1 500.9h0M459.8 512.1h0M506.0 560.8h0M513.5 568.3h0M526.0 588.3h0M547.3 610.8h0M562.0 361.7h0M608.2 396.0h0M599.5 397.2h0M585.7 401.0h0M601.2 371.7h0M602.3 374.7h0M603.3 377.7h0M604.3 380.7h0M605.4 383.7h0M606.4 386.7h0M607.5 389.7h0M609.7 422.7h0M611.7 427.2h0M613.2 430.9h0M615.0 440.4h0M616.2 443.9h0M618.7 452.9h0M620.0 457.9h0M621.7 469.7h0M623.0 470.9h0M625.0 485.9h0M627.5 490.9h0M630.2 497.4h0M631.7 505.9h0M626.2 507.1h0M628.7 510.1h0M632.7 515.1h0M634.0 546.6h0M635.2 554.1h0M636.5 597.1h0M587.0 526.4h0M588.2 547.8h0M582.0 550.3h0M580.7 602.6h0M563.0 617.5h0M617.2 625.3h0M623.7 626.3h0M683.2 613.8h0M637.7 624.0h0M580.0 618.3h0M581.9 620.2h0M583.8 622.1h0M585.7 624.0h0M773.6 351.5h0M774.9 354.0h0M786.1 351.5h0M786.1 354.7h0M822.3 355.5h0M827.8 352.2h0M829.8 354.7h0M853.1 354.0h0M869.3 354.0h0M911.0 364.2h0M831.6 374.2h0M845.3 374.2h0M873.3 374.2h0M893.5 374.2h0M878.1 388.5h0M752.9 398.5h0M866.8 399.7h0M871.8 399.7h0M897.3 399.7h0M818.8 407.2h0M841.6 407.2h0M927.8 407.2h0M776.9 417.2h0M778.6 414.7h0M835.3 418.7h0M870.6 421.2h0M861.8 438.9h0M818.8 447.9h0M932.8 447.9h0M807.3 465.4h0M894.8 471.9h0M759.1 487.1h0M779.4 498.4h0M779.4 500.1h0M766.4 562.8h0M768.6 561.3h0M866.8 556.6h0M828.8 567.1h0M941.5 565.6h0M939.8 580.3h0M941.8 583.3h0M766.9 582.1h0M783.4 589.6h0M898.5 589.6h0M898.5 591.3h0M751.6 602.6h0M826.3 602.6h0M883.3 611.1h0M868.1 621.5h0M896.0 622.8h0M958.0 617.5h0M756.1 627.5h0M758.1 629.0h0M767.9 630.3h0M771.9 631.5h0M782.1 632.8h0M821.1 635.3h0M824.3 634.5h0M828.8 637.8h0M841.1 639.0h0M843.1 639.0h0M850.3 640.3h0M860.3 641.5h0M863.6 644.5h0M866.1 645.5h0M892.3 642.8h0M901.0 658.3h0M908.5 659.0h0M912.3 660.3h0M934.0 662.0h0M938.5 663.8h0M950.5 665.8h0M960.0 667.0h0M963.2 352.7h0M1021.7 346.0h0M1021.7 349.2h0M1034.2 351.5h0M1031.2 354.0h0M1050.4 358.0h0M1094.9 341.0h0M1106.2 356.7h0M1016.2 370.5h0M1045.4 374.2h0M1130.4 391.0h0M1182.4 363.0h0M1183.9 365.5h0M1184.9 374.2h0M1181.1 380.5h0M1242.3 343.0h0M1242.3 346.0h0M1267.3 344.7h0M1319.0 348.0h0M1338.5 346.0h0M1338.5 349.7h0M1348.0 344.7h0M1348.0 349.7h0M1355.5 358.0h0M1326.5 370.5h0M1313.5 392.2h0M1316.8 390.5h0M1340.5 407.2h0M1326.5 419.9h0M965.5 407.2h0M978.2 407.2h0M997.5 407.2h0M1001.2 404.7h0M1000.0 407.2h0M1006.5 407.2h0M993.5 417.2h0M1018.7 415.9h0M1094.9 415.9h0M1179.6 419.9h0M979.5 442.7h0M998.5 442.7h0M1010.0 442.7h0M1085.9 442.7h0M1113.9 442.7h0M1232.8 442.7h0M991.0 450.2h0M1013.7 458.9h0M1013.7 468.4h0M1015.5 466.7h0M979.5 475.9h0M1075.7 458.9h0M1116.2 461.7h0M1355.5 464.2h0M1188.4 476.9h0M1084.7 487.1h0M1050.4 493.4h0M983.2 498.9h0M992.5 498.9h0M1059.2 504.1h0M1073.7 502.6h0M1075.7 500.9h0M1085.9 504.1h0M1078.4 512.4h0M1230.3 492.1h0M1230.6 500.9h0M1232.3 502.1h0M1234.8 499.6h0M1251.8 493.4h0M1260.6 495.9h0M1360.0 493.4h0M1213.8 512.4h0M1219.1 513.6h0M1108.7 522.4h0M1281.0 522.4h0M1354.3 525.1h0M1131.1 477.9h0M1133.0 480.9h0M1134.9 483.9h0M1199.9 527.1h0M1201.5 529.9h0M1203.2 532.7h0M1204.9 535.5h0M1206.6 538.4h0M1207.6 542.9h0M1216.3 555.3h0M1070.7 544.6h0M1080.7 552.8h0M1082.4 555.3h0M1334.0 544.1h0M1317.5 558.1h0M1334.0 560.6h0M1336.8 558.3h0M1246.8 567.1h0M1266.8 572.1h0M993.5 570.6h0M1025.2 570.6h0M1104.9 569.3h0M1264.3 587.1h0M970.0 589.6h0M970.0 592.1h0M1012.5 592.1h0M1032.7 594.8h0M1096.2 593.6h0M1211.1 598.3h0M1231.6 606.1h0M1242.8 596.1h0M1282.3 602.3h0M1282.3 615.0h0M1317.5 602.3h0M1326.5 607.6h0M1329.0 615.0h0M1076.9 603.6h0M1082.2 603.6h0M994.7 609.6h0M994.7 613.3h0M1015.2 608.8h0M1127.9 621.3h0M960.0 617.5h0M962.0 667.0h0M966.7 668.3h0M980.7 672.0h0M987.0 673.3h0M990.7 674.5h0M996.0 670.8h0M1001.2 675.3h0M1005.0 677.0h0M1017.5 679.5h0M1022.5 678.3h0M1025.5 681.3h0M1030.0 682.0h0M1372.1 355.5h0M1374.6 357.2h0M1382.1 358.0h0M1365.9 370.5h0M1374.6 368.0h0M1391.4 407.2h0M1410.4 419.9h0M1401.4 438.9h0M1410.4 458.9h0M1360.9 493.4h0M1382.4 493.4h0M1398.6 495.9h0M1381.1 502.1h0M1379.6 544.1h0M1406.4 552.8h0M1406.4 555.3h0M1405.4 578.3h0M1377.9 606.1h0M1388.4 602.3h0M1392.9 606.1h0M1409.1 600.8h0M1409.1 604.6h0M1393.4 669.5h0M824.3 783.2h0M926.5 696.2h0M831.6 736.5h0M853.1 747.0h0M853.1 760.9h0M784.4 758.2h0M786.1 761.9h0M822.3 772.2h0M839.1 772.2h0M844.1 772.2h0M824.8 778.2h0M831.6 778.2h0M903.5 761.9h0M898.5 767.2h0M931.5 736.5h0M931.5 745.7h0M940.3 756.9h0M925.3 774.7h0M929.0 778.2h0M932.8 779.9h0M869.3 794.9h0M883.3 798.7h0M948.0 846.9h0M1039.5 687.0h0M1047.9 685.7h0M1061.9 688.2h0M1084.7 690.0h0M1089.7 691.2h0M1103.7 692.2h0M1112.7 693.5h0M1152.9 694.5h0M1157.4 697.5h0M1163.1 698.7h0M1169.4 699.7h0M1177.1 701.2h0M1186.1 702.5h0M1222.3 703.7h0M1227.3 705.7h0M1234.1 707.5h0M1244.1 708.5h0M1278.6 720.2h0M1319.8 723.2h0M1321.5 720.7h0M1325.3 722.5h0M1341.5 725.2h0M1344.5 726.5h0M1347.5 727.7h0M1350.5 729.0h0M1353.5 730.2h0M1003.7 736.5h0M1124.1 736.5h0M1282.3 736.5h0M1278.6 744.2h0M1329.0 736.5h0M1236.6 751.9h0M1236.6 754.4h0M1244.3 751.9h0M977.0 761.9h0M1087.2 761.9h0M1121.4 761.9h0M1122.6 770.7h0M1129.1 771.9h0M1122.6 778.4h0M1125.1 788.7h0M1261.8 774.7h0M1284.3 774.7h0M1288.5 773.4h0M978.2 783.4h0M1179.9 789.9h0M1184.9 791.2h0M988.5 798.7h0M1020.0 794.9h0M1334.0 794.9h0M1115.2 807.7h0M1180.9 810.2h0M1360.0 804.4h0M988.5 825.4h0M1186.1 830.4h0M964.5 834.1h0M1071.9 834.1h0M1326.5 832.9h0M1215.1 839.4h0M1319.0 840.6h0M1348.0 841.9h0M1154.4 847.4h0M1154.4 849.4h0M1266.8 884.9h0M1292.3 891.3h0M1324.0 882.4h0M1107.4 888.6h0M1093.4 895.1h0M1090.9 900.1h0M1090.9 909.1h0M1342.3 911.1h0M1346.8 912.6h0M1026.2 916.6h0M1160.6 936.8h0M1160.6 946.8h0M1160.6 950.6h0M1178.4 950.6h0M1221.1 953.1h0M1208.6 956.8h0M1232.8 956.8h0M1255.6 949.6h0M1320.0 954.3h0M1317.8 983.8h0M1315.0 988.8h0M1360.0 971.8h0M1265.8 1020.5h0M985.0 905.1h0M1007.5 916.3h0M1007.5 921.8h0M1046.2 935.6h0M1066.9 939.3h0M1077.4 955.5h0M1104.9 963.8h0M1156.1 1007.5h0M1141.6 990.0h0M1145.6 991.3h0M1151.1 992.5h0M1179.6 1010.0h0M1199.9 1021.8h0M1208.6 1014.3h0M1211.1 1018.0h0M1378.4 731.5h0M1384.6 732.7h0M1386.4 734.5h0M1391.4 745.7h0M1414.1 761.9h0M1369.6 766.9h0M1373.4 771.9h0M1362.1 805.2h0M1363.4 808.2h0M1364.6 811.4h0M1402.6 817.7h0M1387.4 834.1h0M1407.6 846.9h0M1411.6 843.1h0M1403.9 955.5h0M1360.9 971.8h0M1363.4 974.8h0M1374.9 973.5h0M1419.1 977.5h0M1402.6 985.0h0M1410.4 1010.0h0M1410.4 1016.8h0M1227.4 1044.5h0M1242.4 1051.2h0M1253.2 1053.2h0M1289.9 1072.4h0M1304.9 1079.4h0M1308.6 1079.9h0M1312.9 1081.2h0M1321.9 1114.9h0M1326.9 1116.9h0M1364.8 1130.4h0M1365.6 1136.2h0M1374.8 1131.7h0M1371.6 1137.9h0M1407.3 1150.6h0M1414.3 1149.9h0M1420.5 1146.1h0M1420.5 1149.4h0M1265.6 1020.5h0M1389.1 1053.2h0M1327.9 1073.7h0M1358.6 1089.9h0M267.9 33.2h0M276.2 30.0h0M282.4 33.7h0M287.9 31.2h0M302.4 33.2h0M331.6 33.2h0M439.8 31.2h0M519.8 33.7h0M278.7 37.5h0M442.3 37.0h0M517.3 37.5h0M524.8 37.5h0M256.2 43.7h0M270.4 45.5h0M278.7 42.5h0M309.4 45.5h0M348.6 42.5h0M372.9 45.5h0M388.6 44.5h0M394.9 45.5h0M399.9 45.5h0M414.3 45.5h0M437.3 45.5h0M459.8 45.5h0M534.8 44.5h0M547.3 45.0h0M372.4 22.0h0M371.9 31.2h0M374.9 37.5h0M424.8 19.5h0M426.1 30.0h0M427.3 37.5h0M439.3 30.0h0M204.5 51.7h0M206.3 55.2h0M208.1 58.6h0M210.0 62.0h0M211.8 65.5h0M213.6 68.9h0M215.5 72.4h0M217.3 75.8h0M219.1 79.2h0M221.0 82.7h0M222.8 86.1h0M224.6 89.6h0M226.5 93.0h0M228.3 96.5h0M230.1 99.9h0M232.0 103.3h0M233.8 106.8h0M235.6 110.2h0M237.5 113.7h0M283.2 117.4h0M266.2 122.9h0M241.2 124.2h0M240.4 129.2h0M246.2 131.2h0M247.4 136.2h0M252.4 138.6h0M256.2 143.6h0M259.9 146.1h0M258.7 151.1h0M263.7 152.4h0M276.7 170.6h0M332.4 170.4h0M334.2 173.4h0M336.1 176.4h0M337.9 179.4h0M395.6 117.4h0M417.3 113.7h0M470.6 113.7h0M526.5 117.4h0M534.8 114.9h0M544.8 113.7h0M544.0 118.7h0M551.0 162.4h0M553.3 165.5h0M555.5 168.6h0M557.8 171.7h0M560.0 174.9h0M281.7 212.3h0M316.2 212.3h0M326.9 212.3h0M338.6 211.6h0M301.2 219.1h0M316.2 222.3h0M323.6 221.1h0M324.9 223.6h0M331.1 221.8h0M286.7 227.3h0M375.6 217.3h0M388.6 209.8h0M398.6 209.8h0M398.6 213.6h0M389.9 219.1h0M383.1 227.3h0M409.8 204.8h0M412.3 209.8h0M529.0 203.6h0M542.3 212.3h0M539.3 217.3h0M343.6 239.1h0M392.4 236.8h0M424.8 236.8h0M498.5 237.3h0M546.0 237.3h0M349.1 257.3h0M333.6 241.1h0M335.1 243.6h0M336.5 246.1h0M338.0 248.6h0M339.4 251.1h0M462.3 242.8h0M464.4 246.0h0M466.5 249.2h0M468.6 252.3h0M475.3 242.8h0M476.6 245.7h0M477.9 248.6h0M479.3 251.5h0M480.6 254.4h0M481.9 257.4h0M483.2 260.3h0M484.5 263.2h0M485.8 266.1h0M487.2 269.0h0M488.5 271.9h0M489.8 274.8h0M400.6 276.8h0M412.3 283.0h0M417.3 287.3h0M449.8 286.8h0M459.1 286.8h0M454.8 291.0h0M322.4 285.5h0M327.4 292.8h0M341.6 292.8h0M331.1 301.0h0M416.1 299.8h0M439.8 302.3h0M452.3 303.0h0M454.3 308.5h0M492.3 297.3h0M491.0 307.3h0M499.8 311.0h0M541.0 296.5h0M416.1 312.3h0M512.3 322.3h0M344.9 324.8h0M352.4 326.0h0M403.6 322.3h0M384.4 339.8h0M462.3 329.8h0M464.8 333.5h0M467.3 337.3h0M469.8 341.0h0M473.6 329.8h0M476.5 333.5h0M479.4 337.3h0M482.3 341.0h0M583.0 22.5h0M589.5 28.7h0M590.5 46.2h0M592.0 50.0h0M671.9 45.0h0M576.7 160.1h0M560.0 172.4h0M564.5 178.6h0M570.0 184.9h0M573.7 187.9h0M578.7 191.9h0M593.5 198.6h0M566.7 211.1h0M584.2 217.3h0M596.0 219.8h0M597.5 234.8h0M584.2 287.3h0M594.5 284.3h0M598.2 291.8h0M568.0 337.8h0M750.4 21.2h0M781.1 21.2h0M788.6 20.0h0M750.4 33.2h0M756.1 31.2h0M756.1 37.5h0M759.9 30.0h0M765.4 30.0h0M764.9 37.5h0M808.6 37.5h0M817.3 31.2h0M824.8 32.5h0M826.1 37.5h0M833.6 37.5h0M899.8 31.2h0M905.3 30.5h0M868.6 37.5h0M944.8 37.5h0M947.3 41.2h0M768.1 45.0h0M850.3 45.5h0M860.6 45.5h0M879.8 45.5h0M892.3 45.5h0M901.0 45.5h0M909.8 45.5h0M925.3 42.5h0M938.5 45.5h0M946.8 42.5h0M958.5 42.5h0M809.8 117.9h0M832.3 117.9h0M869.3 113.7h0M911.0 113.7h0M936.5 113.7h0M944.0 117.9h0M790.4 170.4h0M792.3 173.4h0M794.2 176.4h0M796.1 179.4h0M760.4 204.8h0M766.1 212.3h0M783.1 212.3h0M789.4 212.3h0M797.4 211.6h0M807.3 212.3h0M813.8 204.8h0M842.8 204.8h0M844.1 212.3h0M859.8 209.3h0M893.5 211.1h0M898.5 212.3h0M904.8 209.3h0M907.8 212.3h0M927.8 204.8h0M949.3 212.3h0M788.1 218.6h0M788.1 228.6h0M782.4 236.8h0M750.4 240.3h0M842.8 236.8h0M925.3 246.6h0M953.0 254.8h0M951.5 259.3h0M925.3 268.1h0M954.8 274.3h0M958.5 271.1h0M791.9 241.1h0M794.9 246.8h0M797.9 251.1h0M770.6 287.3h0M812.3 287.3h0M830.3 287.3h0M869.3 287.3h0M906.0 287.3h0M789.9 294.8h0M807.3 302.3h0M836.8 299.8h0M837.8 305.3h0M856.6 319.8h0M864.3 326.0h0M893.5 316.0h0M899.8 316.0h0M907.3 316.0h0M907.3 320.3h0M949.3 319.8h0M949.3 327.3h0M786.9 322.3h0M790.4 327.8h0M792.5 330.3h0M794.7 332.8h0M796.9 335.3h0M799.1 337.8h0M1001.2 31.7h0M1132.4 32.5h0M1198.6 33.2h0M1248.6 30.0h0M983.7 37.5h0M1062.9 37.0h0M1157.4 35.0h0M1239.8 37.5h0M1322.3 37.5h0M1344.8 37.5h0M973.7 42.5h0M991.2 45.5h0M996.2 45.5h0M1008.7 42.5h0M1022.5 45.5h0M1027.5 43.7h0M1030.7 45.5h0M1039.5 45.5h0M1047.9 45.5h0M1088.7 44.5h0M1091.2 44.5h0M1103.7 45.5h0M1121.6 42.5h0M1152.4 45.5h0M1158.6 43.7h0M1164.9 42.5h0M1176.9 45.5h0M1186.1 45.5h0M1209.3 42.5h0M1244.1 45.5h0M1261.1 44.5h0M1284.0 42.5h0M970.5 117.9h0M989.7 113.7h0M1011.2 113.7h0M1020.0 117.9h0M1026.2 117.9h0M1035.0 117.9h0M1041.2 118.7h0M1155.6 113.7h0M1153.6 117.9h0M1164.9 113.7h0M1264.3 117.9h0M1287.3 117.9h0M1326.5 113.7h0M1339.8 117.9h0M1346.0 117.9h0M1351.0 113.7h0M1008.7 159.1h0M973.2 181.9h0M1159.4 178.1h0M1283.5 174.1h0M1000.0 204.8h0M974.2 212.3h0M977.0 217.3h0M998.2 218.6h0M1044.4 209.3h0M1046.2 212.3h0M1079.9 209.3h0M1082.4 212.3h0M1089.4 208.1h0M1104.9 212.3h0M1121.1 218.6h0M1113.7 222.3h0M1049.2 222.3h0M1166.1 212.3h0M1187.4 209.8h0M1164.4 218.6h0M1211.1 212.3h0M1209.8 218.6h0M1257.3 201.9h0M1253.6 206.1h0M1259.3 209.8h0M1271.1 197.4h0M1272.3 211.1h0M1249.3 222.3h0M1326.5 209.8h0M1326.5 212.8h0M1333.0 209.8h0M1340.5 204.8h0M1331.8 222.3h0M1360.0 212.3h0M1011.2 237.3h0M1027.5 236.8h0M1038.0 239.1h0M1074.4 232.8h0M1085.7 236.1h0M1097.4 232.8h0M1109.9 231.8h0M1113.7 236.1h0M1121.1 237.3h0M1164.9 237.3h0M1172.4 236.1h0M1176.1 239.8h0M1188.6 236.1h0M1209.8 240.3h0M1257.3 236.8h0M1278.6 236.8h0M1284.3 241.8h0M1341.5 236.8h0M1159.4 245.3h0M1261.8 249.3h0M1272.3 249.1h0M1108.7 251.6h0M1106.2 259.3h0M1107.4 274.8h0M1102.4 279.8h0M1088.7 276.8h0M1088.7 281.0h0M972.0 263.1h0M968.0 266.8h0M960.0 270.3h0M1044.2 287.3h0M1073.2 288.5h0M1079.4 285.5h0M1032.5 293.0h0M1041.2 295.5h0M1052.9 294.8h0M1055.7 297.8h0M1049.4 301.0h0M1051.9 303.5h0M1058.2 304.8h0M1054.4 310.5h0M1081.9 294.8h0M1083.2 299.8h0M1083.2 309.8h0M1113.7 301.0h0M1116.2 302.3h0M974.5 302.3h0M1015.2 302.3h0M1043.2 317.8h0M1046.7 319.8h0M1037.5 326.0h0M1073.2 327.3h0M1104.9 319.8h0M963.7 327.3h0M979.5 326.0h0M1212.3 285.5h0M1217.8 288.5h0M1212.8 293.0h0M1166.9 299.8h0M1251.8 297.3h0M1249.8 303.0h0M1247.3 305.3h0M1249.8 309.8h0M1255.6 313.5h0M1254.3 318.5h0M1238.1 318.5h0M1322.8 287.3h0M1331.8 301.0h0M1327.8 318.5h0M1178.6 318.5h0M1187.4 319.0h0M1183.6 324.8h0M1094.9 339.8h0M1242.3 339.8h0M1364.6 32.5h0M1394.6 31.7h0M1400.9 31.7h0M1378.4 45.5h0M1385.9 45.5h0M1393.4 45.5h0M1367.1 117.9h0M1405.4 117.9h0M1360.9 212.3h0M1377.1 212.3h0M1382.1 209.3h0M1387.1 212.3h0M1410.4 212.3h0M1400.1 222.3h0M1358.4 228.6h0M1362.1 229.8h0M1355.9 233.6h0M1359.7 236.1h0M1368.4 231.1h0M1388.9 240.3h0M1398.9 237.3h0M1379.6 298.5h0M1410.4 302.3h0M1403.9 306.0h0M1377.1 319.8h0M1387.1 319.8h0M1392.9 318.5h0M1400.9 326.0h0M368.6 366.0h0M369.9 370.5h0M372.9 370.5h0M384.4 341.0h0M506.0 354.0h0M534.0 345.2h0M527.3 341.0h0M560.0 361.5h0M418.6 364.2h0M418.6 374.2h0M440.1 374.2h0M386.6 380.5h0M422.3 391.0h0M426.1 418.9h0M511.0 417.2h0M527.3 415.9h0M401.8 435.4h0M513.5 441.4h0M470.6 450.2h0M424.8 447.2h0M493.0 493.4h0M509.8 498.4h0M509.8 500.1h0M527.3 498.4h0M545.3 602.1h0M381.1 406.5h0M393.6 425.2h0M451.1 500.9h0M459.8 512.1h0M506.0 560.8h0M513.5 568.3h0M526.0 588.3h0M547.3 610.8h0M562.0 361.7h0M608.2 396.0h0M599.5 397.2h0M585.7 401.0h0M601.2 371.7h0M602.3 374.7h0M603.3 377.7h0M604.3 380.7h0M605.4 383.7h0M606.4 386.7h0M607.5 389.7h0M609.7 422.7h0M611.7 427.2h0M613.2 430.9h0M615.0 440.4h0M616.2 443.9h0M618.7 452.9h0M620.0 457.9h0M621.7 469.7h0M623.0 470.9h0M625.0 485.9h0M627.5 490.9h0M630.2 497.4h0M631.7 505.9h0M626.2 507.1h0M628.7 510.1h0M632.7 515.1h0M634.0 546.6h0M635.2 554.1h0M636.5 597.1h0M587.0 526.4h0M588.2 547.8h0M582.0 550.3h0M580.7 602.6h0M563.0 617.5h0M617.2 625.3h0M623.7 626.3h0M683.2 613.8h0M637.7 624.0h0M580.0 618.3h0M581.9 620.2h0M583.8 622.1h0M585.7 624.0h0M773.6 351.5h0M774.9 354.0h0M786.1 351.5h0M786.1 354.7h0M822.3 355.5h0M827.8 352.2h0M829.8 354.7h0M853.1 354.0h0M869.3 354.0h0M911.0 364.2h0M831.6 374.2h0M845.3 374.2h0M873.3 374.2h0M893.5 374.2h0M878.1 388.5h0M752.9 398.5h0M866.8 399.7h0M871.8 399.7h0M897.3 399.7h0M818.8 407.2h0M841.6 407.2h0M927.8 407.2h0M776.9 417.2h0M778.6 414.7h0M835.3 418.7h0M870.6 421.2h0M861.8 438.9h0M818.8 447.9h0M932.8 447.9h0M807.3 465.4h0M894.8 471.9h0M759.1 487.1h0M779.4 498.4h0M779.4 500.1h0M766.4 562.8h0M768.6 561.3h0M866.8 556.6h0M828.8 567.1h0M941.5 565.6h0M939.8 580.3h0M941.8 583.3h0M766.9 582.1h0M783.4 589.6h0M898.5 589.6h0M898.5 591.3h0M751.6 602.6h0M826.3 602.6h0M883.3 611.1h0M868.1 621.5h0M896.0 622.8h0M958.0 617.5h0M756.1 627.5h0M758.1 629.0h0M767.9 630.3h0M771.9 631.5h0M782.1 632.8h0M821.1 635.3h0M824.3 634.5h0M828.8 637.8h0M841.1 639.0h0M843.1 639.0h0M850.3 640.3h0M860.3 641.5h0M863.6 644.5h0M866.1 645.5h0M892.3 642.8h0M901.0 658.3h0M908.5 659.0h0M912.3 660.3h0M934.0 662.0h0M938.5 663.8h0M950.5 665.8h0M960.0 667.0h0M963.2 352.7h0M1021.7 346.0h0M1021.7 349.2h0M1034.2 351.5h0M1031.2 354.0h0M1050.4 358.0h0M1094.9 341.0h0M1106.2 356.7h0M1016.2 370.5h0M1045.4 374.2h0M1130.4 391.0h0M1182.4 363.0h0M1183.9 365.5h0M1184.9 374.2h0M1181.1 380.5h0M1242.3 343.0h0M1242.3 346.0h0M1267.3 344.7h0M1319.0 348.0h0M1338.5 346.0h0M1338.5 349.7h0M1348.0 344.7h0M1348.0 349.7h0M1355.5 358.0h0M1326.5 370.5h0M1313.5 392.2h0M1316.8 390.5h0M1340.5 407.2h0M1326.5 419.9h0M965.5 407.2h0M978.2 407.2h0M997.5 407.2h0M1001.2 404.7h0M1000.0 407.2h0M1006.5 407.2h0M993.5 417.2h0M1018.7 415.9h0M1094.9 415.9h0M1179.6 419.9h0M979.5 442.7h0M998.5 442.7h0M1010.0 442.7h0M1085.9 442.7h0M1113.9 442.7h0M1232.8 442.7h0M991.0 450.2h0M1013.7 458.9h0M1013.7 468.4h0M1015.5 466.7h0M979.5 475.9h0M1075.7 458.9h0M1116.2 461.7h0M1355.5 464.2h0M1188.4 476.9h0M1084.7 487.1h0M1050.4 493.4h0M983.2 498.9h0M992.5 498.9h0M1059.2 504.1h0M1073.7 502.6h0M1075.7 500.9h0M1085.9 504.1h0M1078.4 512.4h0M1230.3 492.1h0M1230.6 500.9h0M1232.3 502.1h0M1234.8 499.6h0M1251.8 493.4h0M1260.6 495.9h0M1360.0 493.4h0M1213.8 512.4h0M1219.1 513.6h0M1108.7 522.4h0M1281.0 522.4h0M1354.3 525.1h0M1131.1 477.9h0M1133.0 480.9h0M1134.9 483.9h0M1199.9 527.1h0M1201.5 529.9h0M1203.2 532.7h0M1204.9 535.5h0M1206.6 538.4h0M1207.6 542.9h0M1216.3 555.3h0M1070.7 544.6h0M1080.7 552.8h0M1082.4 555.3h0M1334.0 544.1h0M1317.5 558.1h0M1334.0 560.6h0M1336.8 558.3h0M1246.8 567.1h0M1266.8 572.1h0M993.5 570.6h0M1025.2 570.6h0M1104.9 569.3h0M1264.3 587.1h0M970.0 589.6h0M970.0 592.1h0M1012.5 592.1h0M1032.7 594.8h0M1096.2 593.6h0M1211.1 598.3h0M1231.6 606.1h0M1242.8 596.1h0M1282.3 602.3h0M1282.3 615.0h0M1317.5 602.3h0M1326.5 607.6h0M1329.0 615.0h0M1076.9 603.6h0M1082.2 603.6h0M994.7 609.6h0M994.7 613.3h0M1015.2 608.8h0M1127.9 621.3h0M960.0 617.5h0M962.0 667.0h0M966.7 668.3h0M980.7 672.0h0M987.0 673.3h0M990.7 674.5h0M996.0 670.8h0M1001.2 675.3h0M1005.0 677.0h0M1017.5 679.5h0M1022.5 678.3h0M1025.5 681.3h0M1030.0 682.0h0M1372.1 355.5h0M1374.6 357.2h0M1382.1 358.0h0M1365.9 370.5h0M1374.6 368.0h0M1391.4 407.2h0M1410.4 419.9h0M1401.4 438.9h0M1410.4 458.9h0M1360.9 493.4h0M1382.4 493.4h0M1398.6 495.9h0M1381.1 502.1h0M1379.6 544.1h0M1406.4 552.8h0M1406.4 555.3h0M1405.4 578.3h0M1377.9 606.1h0M1388.4 602.3h0M1392.9 606.1h0M1409.1 600.8h0M1409.1 604.6h0M1393.4 669.5h0M824.3 783.2h0M926.5 696.2h0M831.6 736.5h0M853.1 747.0h0M853.1 760.9h0M784.4 758.2h0M786.1 761.9h0M822.3 772.2h0M839.1 772.2h0M844.1 772.2h0M824.8 778.2h0M831.6 778.2h0M903.5 761.9h0M898.5 767.2h0M931.5 736.5h0M931.5 745.7h0M940.3 756.9h0M925.3 774.7h0M929.0 778.2h0M932.8 779.9h0M869.3 794.9h0M883.3 798.7h0M948.0 846.9h0M1039.5 687.0h0M1047.9 685.7h0M1061.9 688.2h0M1084.7 690.0h0M1089.7 691.2h0M1103.7 692.2h0M1112.7 693.5h0M1152.9 694.5h0M1157.4 697.5h0M1163.1 698.7h0M1169.4 699.7h0M1177.1 701.2h0M1186.1 702.5h0M1222.3 703.7h0M1227.3 705.7h0M1234.1 707.5h0M1244.1 708.5h0M1278.6 720.2h0M1319.8 723.2h0M1321.5 720.7h0M1325.3 722.5h0M1341.5 725.2h0M1344.5 726.5h0M1347.5 727.7h0M1350.5 729.0h0M1353.5 730.2h0M1003.7 736.5h0M1124.1 736.5h0M1282.3 736.5h0M1278.6 744.2h0M1329.0 736.5h0M1236.6 751.9h0M1236.6 754.4h0M1244.3 751.9h0M977.0 761.9h0M1087.2 761.9h0M1121.4 761.9h0M1122.6 770.7h0M1129.1 771.9h0M1122.6 778.4h0M1125.1 788.7h0M1261.8 774.7h0M1284.3 774.7h0M1288.5 773.4h0M978.2 783.4h0M1179.9 789.9h0M1184.9 791.2h0M988.5 798.7h0M1020.0 794.9h0M1334.0 794.9h0M1115.2 807.7h0M1180.9 810.2h0M1360.0 804.4h0M988.5 825.4h0M1186.1 830.4h0M964.5 834.1h0M1071.9 834.1h0M1326.5 832.9h0M1215.1 839.4h0M1319.0 840.6h0M1348.0 841.9h0M1154.4 847.4h0M1154.4 849.4h0M1266.8 884.9h0M1292.3 891.3h0M1324.0 882.4h0M1107.4 888.6h0M1093.4 895.1h0M1090.9 900.1h0M1090.9 909.1h0M1342.3 911.1h0M1346.8 912.6h0M1026.2 916.6h0M1160.6 936.8h0M1160.6 946.8h0M1160.6 950.6h0M1178.4 950.6h0M1221.1 953.1h0M1208.6 956.8h0M1232.8 956.8h0M1255.6 949.6h0M1320.0 954.3h0M1317.8 983.8h0M1315.0 988.8h0M1360.0 971.8h0M1265.8 1020.5h0M985.0 905.1h0M1007.5 916.3h0M1007.5 921.8h0M1046.2 935.6h0M1066.9 939.3h0M1077.4 955.5h0M1104.9 963.8h0M1156.1 1007.5h0M1141.6 990.0h0M1145.6 991.3h0M1151.1 992.5h0M1179.6 1010.0h0M1199.9 1021.8h0M1208.6 1014.3h0M1211.1 1018.0h0M1378.4 731.5h0M1384.6 732.7h0M1386.4 734.5h0M1391.4 745.7h0M1414.1 761.9h0M1369.6 766.9h0M1373.4 771.9h0M1362.1 805.2h0M1363.4 808.2h0M1364.6 811.4h0M1402.6 817.7h0M1387.4 834.1h0M1407.6 846.9h0M1411.6 843.1h0M1403.9 955.5h0M1360.9 971.8h0M1363.4 974.8h0M1374.9 973.5h0M1419.1 977.5h0M1402.6 985.0h0M1410.4 1010.0h0M1410.4 1016.8h0M1227.4 1044.5h0M1242.4 1051.2h0M1253.2 1053.2h0M1289.9 1072.4h0M1304.9 1079.4h0M1308.6 1079.9h0M1312.9 1081.2h0M1321.9 1114.9h0M1326.9 1116.9h0M1364.8 1130.4h0M1365.6 1136.2h0M1374.8 1131.7h0M1371.6 1137.9h0M1407.3 1150.6h0M1414.3 1149.9h0M1420.5 1146.1h0M1420.5 1149.4h0M1265.6 1020.5h0M1389.1 1053.2h0M1327.9 1073.7h0M1358.6 1089.9h0" fill="none" stroke="#97a926" stroke-linecap="round" stroke-width="5.0"/>
</g>
<g fill="#97a926">
<rect x="1420.4" y="211.0" width="1.3" height="3"/>
<rect x="1420.4" y="220.3" width="1.3" height="3"/>
<rect x="1420.4" y="288.5" width="1.3" height="3"/>
<rect x="1420.4" y="318.1" width="1.3" height="3"/>
<rect x="1420.4" y="357.5" width="1.3" height="3"/>
<rect x="1420.4" y="362.5" width="1.3" height="3"/>
<rect x="1420.4" y="368.5" width="1.3" height="3"/>
<rect x="1420.4" y="374.5" width="1.3" height="3"/>
<rect x="1420.4" y="380.5" width="1.3" height="3"/>
<rect x="1420.4" y="406.0" width="1.3" height="3"/>
<rect x="1420.4" y="418.1" width="1.3" height="3"/>
<rect x="1420.4" y="422.5" width="1.3" height="3"/>
<rect x="1420.4" y="445.5" width="1.3" height="3"/>
<rect x="1420.4" y="493.5" width="1.3" height="3"/>
<rect x="1420.4" y="558.5" width="1.3" height="3"/>
<rect x="1420.4" y="610.5" width="1.3" height="3"/>
<rect x="1420.4" y="662.5" width="1.3" height="3"/>
<rect x="1420.4" y="698.5" width="1.3" height="3"/>
<rect x="1420.4" y="743.5" width="1.3" height="3"/>
<rect x="1420.4" y="768.5" width="1.3" height="3"/>
<rect x="1420.4" y="840.5" width="1.3" height="3"/>
<rect x="1420.4" y="844.5" width="1.3" height="3"/>
<rect x="1420.4" y="913.5" width="1.3" height="3"/>
<rect x="1420.4" y="1003.5" width="1.3" height="3"/>
<rect x="1420.4" y="1106.5" width="1.3" height="3"/>
</g>
<g shape-rendering="crispEdges">
<rect x="1454.6" y="16.10" width="69.9" height="18.45" fill="#e63200"/>
<rect x="1454.6" y="33.95" width="69.9" height="18.45" fill="#e63900"/>
<rect x="1454.6" y="51.79" width="69.9" height="18.45" fill="#e64000"/>
<rect x="1454.6" y="69.64" width="69.9" height="18.45" fill="#e64700"/>
<rect x="1454.6" y="87.48" width="69.9" height="18.45" fill="#e64e00"/>
<rect x="1454.6" y="105.33" width="69.9" height="18.45" fill="#e65500"/>
<rect x="1454.6" y="123.18" width="69.9" height="18.45" fill="#e65c00"/>
<rect x="1454.6" y="141.02" width="69.9" height="18.45" fill="#e66300"/>
<rect x="1454.6" y="158.87" width="69.9" height="18.45" fill="#e66b00"/>
<rect x="1454.6" y="176.71" width="69.9" height="18.45" fill="#e67200"/>
<rect x="1454.6" y="194.56" width="69.9" height="18.45" fill="#e67900"/>
<rect x="1454.6" y="212.41" width="69.9" height="18.45" fill="#e68000"/>
<rect x="1454.6" y="230.25" width="69.9" height="18.45" fill="#e68700"/>
<rect x="1454.6" y="248.10" width="69.9" height="18.45" fill="#e68e00"/>
<rect x="1454.6" y="265.95" width="69.9" height="18.45" fill="#e69500"/>
<rect x="1454.6" y="283.79" width="69.9" height="18.45" fill="#e69c00"/>
<rect x="1454.6" y="301.64" width="69.9" height="18.45" fill="#e4a001"/>
<rect x="1454.6" y="319.48" width="69.9" height="18.45" fill="#dfa104"/>
<rect x="1454.6" y="337.33" width="69.9" height="18.45" fill="#daa207"/>
<rect x="1454.6" y="355.18" width="69.9" height="18.45" fill="#d5a20a"/>
<rect x="1454.6" y="373.02" width="69.9" height="18.45" fill="#d1a30c"/>
<rect x="1454.6" y="390.87" width="69.9" height="18.45" fill="#cca40f"/>
<rect x="1454.6" y="408.71" width="69.9" height="18.45" fill="#c7a412"/>
<rect x="1454.6" y="426.56" width="69.9" height="18.45" fill="#c2a515"/>
<rect x="1454.6" y="444.41" width="69.9" height="18.45" fill="#bea617"/>
<rect x="1454.6" y="462.25" width="69.9" height="18.45" fill="#b9a71a"/>
<rect x="1454.6" y="480.10" width="69.9" height="18.45" fill="#b4a71d"/>
<rect x="1454.6" y="497.94" width="69.9" height="18.45" fill="#afa820"/>
<rect x="1454.6" y="515.79" width="69.9" height="18.45" fill="#aba922"/>
<rect x="1454.6" y="533.64" width="69.9" height="18.45" fill="#a6a925"/>
<rect x="1454.6" y="551.48" width="69.9" height="18.45" fill="#a1aa28"/>
<rect x="1454.6" y="569.33" width="69.9" height="18.45" fill="#9cab2b"/>
<rect x="1454.6" y="587.18" width="69.9" height="18.45" fill="#97aa30"/>
<rect x="1454.6" y="605.02" width="69.9" height="18.45" fill="#90a839"/>
<rect x="1454.6" y="622.87" width="69.9" height="18.45" fill="#89a542"/>
<rect x="1454.6" y="640.71" width="69.9" height="18.45" fill="#82a34b"/>
<rect x="1454.6" y="658.56" width="69.9" height="18.45" fill="#7ca153"/>
<rect x="1454.6" y="676.41" width="69.9" height="18.45" fill="#759e5c"/>
<rect x="1454.6" y="694.25" width="69.9" height="18.45" fill="#6e9c65"/>
<rect x="1454.6" y="712.10" width="69.9" height="18.45" fill="#679a6e"/>
<rect x="1454.6" y="729.94" width="69.9" height="18.45" fill="#619776"/>
<rect x="1454.6" y="747.79" width="69.9" height="18.45" fill="#5a957f"/>
<rect x="1454.6" y="765.64" width="69.9" height="18.45" fill="#539388"/>
<rect x="1454.6" y="783.48" width="69.9" height="18.45" fill="#4c9091"/>
<rect x="1454.6" y="801.33" width="69.9" height="18.45" fill="#468e99"/>
<rect x="1454.6" y="819.17" width="69.9" height="18.45" fill="#3f8ca2"/>
<rect x="1454.6" y="837.02" width="69.9" height="18.45" fill="#3889ab"/>
<rect x="1454.6" y="854.87" width="69.9" height="18.45" fill="#3187b4"/>
<rect x="1454.6" y="872.71" width="69.9" height="18.45" fill="#2d84b4"/>
<rect x="1454.6" y="890.56" width="69.9" height="18.45" fill="#2a7fad"/>
<rect x="1454.6" y="908.40" width="69.9" height="18.45" fill="#277aa5"/>
<rect x="1454.6" y="926.25" width="69.9" height="18.45" fill="#24769e"/>
<rect x="1454.6" y="944.10" width="69.9" height="18.45" fill="#217196"/>
<rect x="1454.6" y="961.94" width="69.9" height="18.45" fill="#1e6d8f"/>
<rect x="1454.6" y="979.79" width="69.9" height="18.45" fill="#1b6887"/>
<rect x="1454.6" y="997.64" width="69.9" height="18.45" fill="#186380"/>
<rect x="1454.6" y="1015.48" width="69.9" height="18.45" fill="#165f78"/>
<rect x="1454.6" y="1033.33" width="69.9" height="18.45" fill="#135a71"/>
<rect x="1454.6" y="1051.17" width="69.9" height="18.45" fill="#105569"/>
<rect x="1454.6" y="1069.02" width="69.9" height="18.45" fill="#0d5162"/>
<rect x="1454.6" y="1086.87" width="69.9" height="18.45" fill="#0a4c5a"/>
<rect x="1454.6" y="1104.71" width="69.9" height="18.45" fill="#074853"/>
<rect x="1454.6" y="1122.56" width="69.9" height="18.45" fill="#04434b"/>
<rect x="1454.6" y="1140.40" width="69.9" height="18.45" fill="#013e44"/>
</g>
<rect x="1454.6" y="16.10" width="69.9" height="1142.15" fill="none" stroke="#000" stroke-width="2.7"/>
<g stroke="#000" stroke-width="2.3">
<path d="M1524.5 1095.16h-12"/>
<path d="M1524.5 968.74h-12"/>
<path d="M1524.5 842.32h-12"/>
<path d="M1524.5 715.90h-12"/>
<path d="M1524.5 589.48h-12"/>
<path d="M1524.5 463.06h-12"/>
<path d="M1524.5 336.64h-12"/>
<path d="M1524.5 210.22h-12"/>
<path d="M1524.5 83.80h-12"/>
</g>
<g font-size="44.4">
<text transform="translate(1540.2 1111.8) scale(0.965 1)">-40</text>
<text transform="translate(1540.2 985.3) scale(0.965 1)">-30</text>
<text transform="translate(1540.2 858.9) scale(0.965 1)">-20</text>
<text transform="translate(1540.2 732.5) scale(0.965 1)">-10</text>
<text transform="translate(1539.6 606.1) scale(0.965 1)">0</text>
<text transform="translate(1539.6 479.7) scale(0.965 1)">10</text>
<text transform="translate(1539.6 353.2) scale(0.965 1)">20</text>
<text transform="translate(1539.6 226.8) scale(0.965 1)">30</text>
<text transform="translate(1539.6 100.4) scale(0.965 1)">40</text>
</g>
<g font-size="52">
<text transform="translate(144.6 36.1) scale(0.940 1)" text-anchor="end">0</text>
<text transform="translate(144.6 162.8) scale(0.940 1)" text-anchor="end">100</text>
<text transform="translate(144.6 289.4) scale(0.940 1)" text-anchor="end">200</text>
<text transform="translate(144.6 416.1) scale(0.940 1)" text-anchor="end">300</text>
<text transform="translate(144.6 542.7) scale(0.940 1)" text-anchor="end">400</text>
<text transform="translate(144.6 669.4) scale(0.940 1)" text-anchor="end">500</text>
<text transform="translate(144.6 796.1) scale(0.940 1)" text-anchor="end">600</text>
<text transform="translate(144.6 922.7) scale(0.940 1)" text-anchor="end">700</text>
<text transform="translate(144.6 1049.4) scale(0.940 1)" text-anchor="end">800</text>
<text transform="translate(144.6 1176.0) scale(0.940 1)" text-anchor="end">900</text>
<text transform="translate(162.2 1225.6) scale(0.940 1)" text-anchor="middle">0</text>
<text transform="translate(415.6 1225.6) scale(0.940 1)" text-anchor="middle">200</text>
<text transform="translate(668.9 1225.6) scale(0.940 1)" text-anchor="middle">400</text>
<text transform="translate(922.2 1225.6) scale(0.940 1)" text-anchor="middle">600</text>
<text transform="translate(1175.5 1225.6) scale(0.940 1)" text-anchor="middle">800</text>
</g>
<g font-size="53.7" text-anchor="middle">
<text x="790" y="1288">Number of columns (reactions)</text>
<text x="796" y="1354">(4205 nonzero elements)</text>
<text transform="translate(40 591.3) rotate(-90)" font-size="53.5">Number of rows (metabolites)</text>
</g>
</svg></body></html>
